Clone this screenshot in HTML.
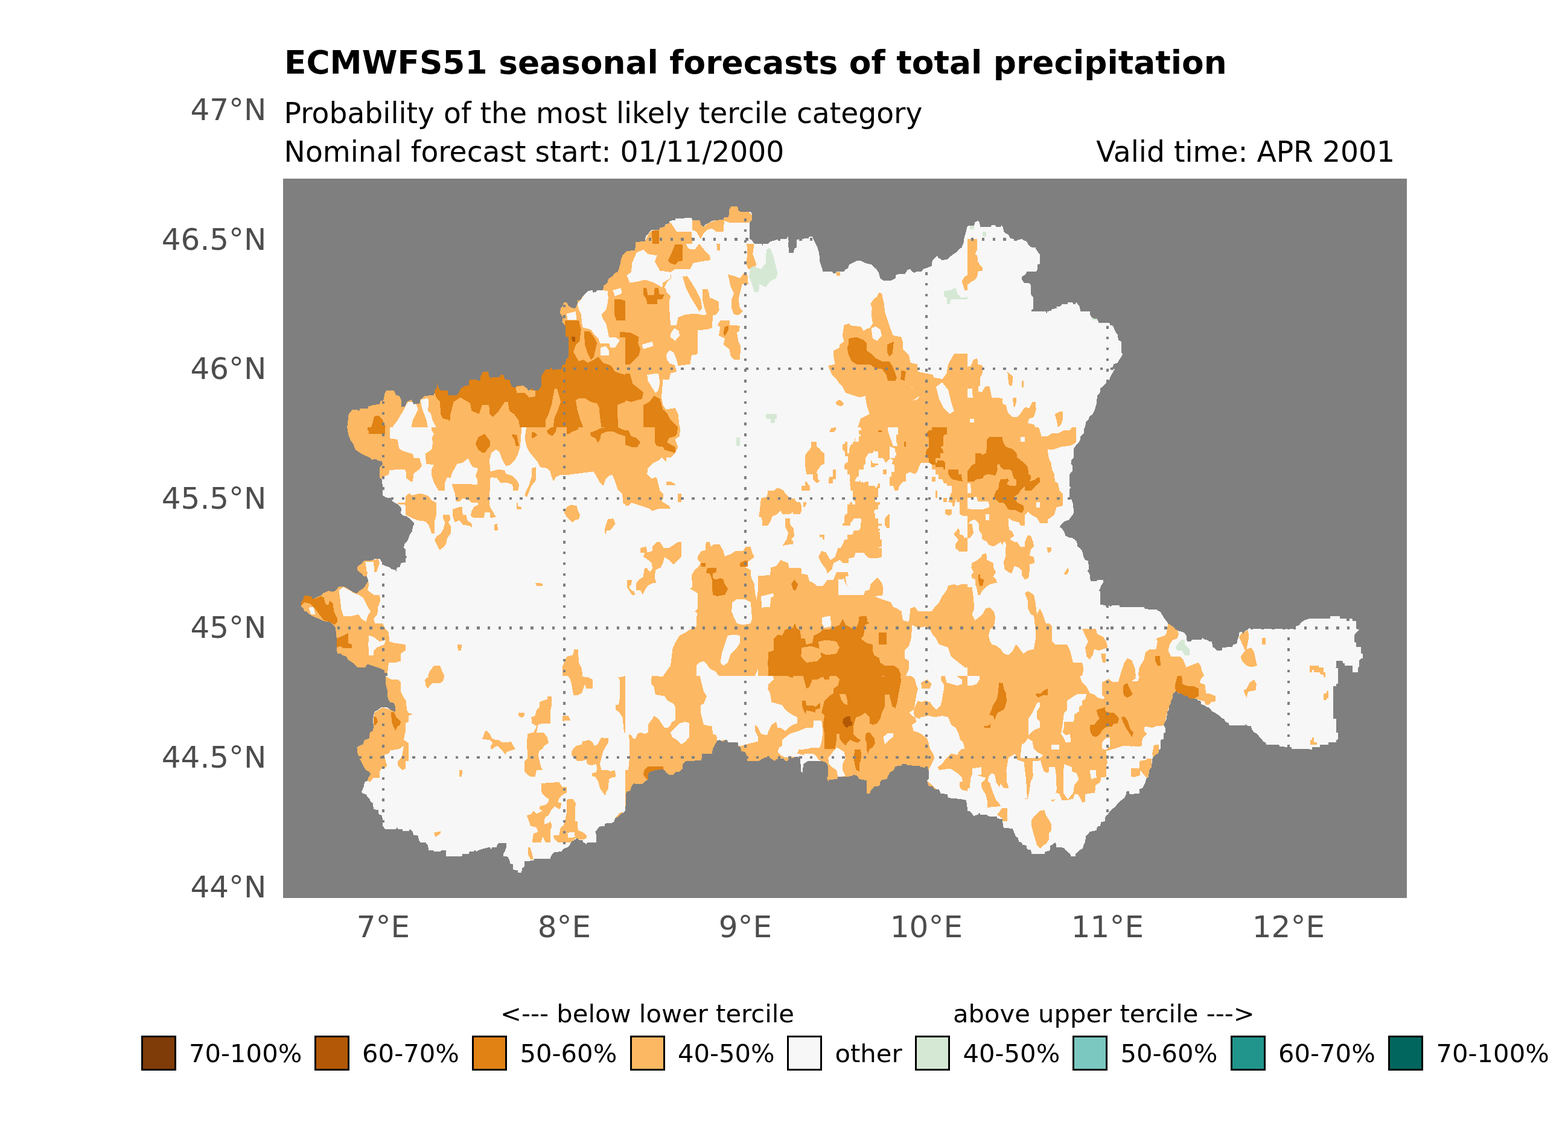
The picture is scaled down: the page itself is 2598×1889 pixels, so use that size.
<!DOCTYPE html>
<html><head><meta charset="utf-8"><title>ECMWFS51 seasonal forecasts of total precipitation</title>
<style>
html,body{margin:0;padding:0;background:#fff;}
body{width:2598px;height:1889px;position:relative;overflow:hidden;font-family:"DejaVu Sans", "Liberation Sans", sans-serif;}
.t{position:absolute;white-space:nowrap;color:#000;}
#title{left:471px;top:64px;font-size:53.35px;font-weight:bold;line-height:80px;}
#sub1{left:470.6px;top:152.6px;font-size:47.2px;line-height:70px;}
#sub2{left:470.6px;top:216.5px;font-size:47.2px;line-height:70px;}
#sub3{right:287px;top:216.5px;font-size:47.2px;line-height:70px;}
.yl{position:absolute;right:2156.5px;font-size:50px;line-height:60px;color:#4d4d4d;white-space:nowrap;text-align:right;}
.xl{position:absolute;top:1501px;width:300px;text-align:center;font-size:50px;line-height:70px;color:#4d4d4d;white-space:nowrap;}
.lk{position:absolute;top:1716px;width:52px;height:52px;border:3px solid #000;}
.lt{position:absolute;top:1711px;font-size:41.7px;line-height:70px;white-space:nowrap;color:#000;}
.lh{position:absolute;top:1650px;font-size:41.7px;line-height:60px;white-space:nowrap;color:#000;}
svg{position:absolute;left:0;top:0;}
</style></head><body>
<svg width="2598" height="1889" viewBox="0 0 2598 1889" xmlns="http://www.w3.org/2000/svg" shape-rendering="crispEdges">
<rect x="469" y="296" width="1862" height="1192" fill="#7f7f7f"/>
<g id="map">
<defs><clipPath id="cl0"><rect x="469" y="296" width="567" height="412"/></clipPath><mask id="mk0" maskUnits="userSpaceOnUse" x="464" y="291" width="577" height="422"><rect x="464" y="291" width="577" height="422" fill="#fff"/><polygon fill="#000" points="575.2,708.0 577.8,686.0 584.0,678.5 591.5,678.5 595.2,681.0 596.5,677.2 610.2,677.2 610.2,673.5 619.0,671.0 629.0,669.8 630.2,664.8 635.2,663.5 637.8,651.0 640.2,647.2 652.8,647.2 656.5,654.8 661.5,656.0 665.2,663.5 665.2,673.5 671.5,673.5 674.0,666.0 681.5,662.2 685.2,669.8 695.2,668.5 696.5,662.2 704.0,656.0 719.0,654.8 720.2,647.2 724.0,642.2 724.5,634.8 726.5,642.2 730.2,647.2 741.5,647.2 742.8,654.8 756.5,654.8 760.2,651.0 764.0,643.5 769.0,639.8 776.5,638.5 777.8,628.5 790.2,628.5 791.5,631.0 795.2,631.0 796.5,623.5 800.2,616.0 809.0,616.0 810.2,623.5 814.0,627.2 815.2,624.8 827.8,624.8 829.0,621.0 834.0,620.5 836.5,628.5 844.0,628.5 846.5,637.2 850.2,642.2 855.2,642.2 856.5,639.0 867.8,639.0 874.0,644.8 875.2,647.2 880.2,644.8 881.5,643.0 884.0,647.2 891.5,647.2 896.5,641.0 896.5,623.5 899.0,619.8 904.0,612.2 911.5,611.8 914.0,608.5 916.5,608.5 917.8,612.2 930.2,611.8 931.5,604.8 936.5,603.5 937.8,596.0 941.5,592.2 941.5,558.5 936.5,557.2 936.5,539.8 931.5,533.5 932.8,526.0 927.8,518.5 929.0,511.0 932.8,506.0 934.0,500.5 939.0,500.5 941.5,506.0 946.5,509.8 952.8,511.0 954.0,508.5 956.5,503.5 956.5,498.5 962.8,496.0 965.2,491.0 969.0,487.2 974.0,482.2 981.5,481.0 982.8,484.8 987.8,483.5 989.0,481.0 999.0,481.0 1000.2,473.5 1006.5,468.5 1007.8,462.2 1015.2,457.2 1017.8,453.5 1024.0,449.8 1027.8,437.2 1029.0,428.5 1031.5,423.5 1036.0,418.5 1069.0,413.5 1069.0,733.5 569.0,733.5"/></mask><clipPath id="cl1"><rect x="469" y="708" width="567" height="412"/></clipPath><mask id="mk1" maskUnits="userSpaceOnUse" x="464" y="703" width="577" height="422"><rect x="464" y="703" width="577" height="422" fill="#fff"/><polygon fill="#000" points="575.2,683.0 575.2,708.0 577.8,723.0 581.5,730.5 585.2,735.5 589.0,745.5 596.5,750.5 602.8,754.2 612.8,758.0 616.5,761.8 622.8,760.5 625.2,763.0 632.8,764.2 634.0,769.2 629.0,774.2 629.0,791.8 632.8,794.2 634.0,808.0 634.0,820.5 639.0,824.2 647.8,825.5 650.2,830.5 654.0,833.0 659.0,835.5 662.8,839.2 665.2,843.0 664.0,850.5 667.8,854.2 674.0,855.5 680.2,860.5 684.0,864.2 686.5,868.0 684.0,873.0 682.8,880.5 679.0,885.5 676.5,893.0 674.0,898.0 670.2,901.8 669.0,908.0 671.5,910.5 671.5,920.5 674.0,923.0 671.5,926.8 671.5,931.8 664.0,933.0 662.8,939.2 657.8,940.5 656.5,946.8 655.2,944.2 647.8,943.0 646.5,940.5 636.5,936.8 632.8,931.8 629.0,925.5 620.2,925.5 619.0,928.0 610.2,929.2 602.8,929.2 599.0,934.2 592.8,938.0 591.5,943.0 594.0,946.8 599.0,950.5 602.8,955.5 606.5,954.2 609.0,958.0 610.2,963.0 606.5,968.0 604.0,973.0 599.0,976.8 595.2,979.2 591.5,983.0 586.5,981.8 580.2,978.0 570.2,971.8 561.5,971.8 556.5,978.0 551.5,980.5 544.0,979.2 535.2,983.0 531.5,986.8 522.8,990.5 519.0,993.0 515.2,988.0 504.0,986.8 502.8,993.0 499.0,998.0 499.0,1005.5 502.8,1008.0 504.0,1013.0 507.8,1013.0 512.8,1018.0 519.0,1021.8 529.0,1025.5 536.5,1029.2 546.5,1030.5 551.5,1035.5 555.2,1038.0 556.5,1045.5 557.8,1058.0 557.8,1075.5 559.0,1083.0 564.0,1083.0 566.5,1085.5 574.0,1088.0 576.5,1093.0 584.0,1098.0 589.0,1103.0 591.5,1105.5 605.2,1105.5 609.0,1100.5 616.5,1103.0 624.0,1105.5 631.5,1108.0 635.2,1110.5 635.2,1114.2 641.5,1115.5 641.5,1145.5 1069.0,1145.5 1069.0,683.0"/></mask><clipPath id="cl2"><rect x="469" y="1120" width="567" height="368"/></clipPath><mask id="mk2" maskUnits="userSpaceOnUse" x="464" y="1115" width="577" height="378"><rect x="464" y="1115" width="577" height="378" fill="#fff"/><polygon fill="#000" points="559.0,1051.0 559.0,1081.0 569.0,1083.5 576.5,1091.0 584.0,1096.0 591.5,1104.8 606.5,1104.8 610.2,1099.8 617.8,1099.8 626.5,1103.5 634.0,1106.0 636.5,1113.5 641.5,1114.8 639.0,1118.5 639.0,1133.5 641.5,1143.5 642.8,1158.5 646.5,1163.5 652.8,1164.8 655.2,1172.2 655.2,1179.8 646.5,1176.0 641.5,1172.2 631.5,1172.2 626.5,1176.0 620.2,1179.8 619.0,1186.0 617.8,1193.5 619.0,1203.5 617.8,1211.0 612.8,1213.5 611.5,1223.5 604.0,1226.0 601.5,1233.5 596.5,1234.8 591.5,1238.5 591.5,1244.8 594.0,1252.2 596.5,1258.5 599.0,1263.5 602.8,1271.0 606.5,1276.0 612.8,1279.8 614.0,1283.5 610.2,1288.5 609.0,1293.5 604.0,1296.0 602.8,1303.5 599.0,1312.2 601.5,1314.8 606.5,1316.0 609.0,1321.0 612.8,1324.8 614.0,1328.5 617.8,1331.0 619.0,1341.0 626.5,1342.2 627.8,1349.8 632.8,1351.0 634.0,1358.5 634.0,1368.5 637.8,1373.5 656.5,1373.5 657.8,1369.8 659.0,1373.5 666.5,1373.5 666.5,1377.2 677.8,1377.2 679.0,1373.5 684.0,1378.5 685.2,1383.5 692.8,1384.8 694.0,1392.2 696.5,1396.0 705.2,1396.0 709.0,1401.0 710.2,1408.5 717.8,1408.5 719.0,1411.0 730.2,1411.0 731.5,1408.5 739.0,1408.5 739.0,1418.5 765.2,1418.5 766.5,1414.8 776.5,1414.8 777.8,1411.0 785.2,1411.0 786.5,1408.5 789.0,1411.0 794.0,1408.5 801.5,1406.0 811.5,1403.5 814.0,1408.5 815.2,1403.5 822.8,1403.5 824.0,1399.8 826.5,1396.5 839.0,1396.5 839.0,1403.5 836.5,1411.0 834.0,1414.8 834.0,1418.5 841.5,1419.8 844.0,1424.8 845.2,1431.0 850.2,1432.2 850.2,1441.0 857.8,1442.2 857.8,1446.0 864.0,1446.0 865.2,1438.5 869.0,1436.0 869.0,1427.2 884.0,1426.0 885.2,1423.5 911.5,1423.0 912.8,1418.5 917.8,1412.2 930.2,1411.0 934.0,1406.0 941.5,1403.5 944.0,1399.8 946.5,1394.8 951.5,1392.2 956.5,1388.5 959.0,1392.2 965.2,1392.2 966.5,1396.0 971.5,1398.5 972.8,1396.0 987.8,1396.0 987.8,1383.5 986.5,1378.5 990.2,1373.5 992.8,1369.8 1001.5,1368.5 1001.5,1364.8 1014.0,1363.5 1017.8,1361.0 1019.0,1356.0 1024.0,1353.5 1029.0,1348.5 1034.0,1346.0 1036.0,1343.5 1069.0,1342.2 1069.0,1051.0"/></mask><clipPath id="cl3"><rect x="1036" y="296" width="567" height="412"/></clipPath><mask id="mk3" maskUnits="userSpaceOnUse" x="1031" y="291" width="577" height="422"><rect x="1031" y="291" width="577" height="422" fill="#fff"/><polygon fill="#000" points="1011.0,418.5 1036.0,418.5 1038.5,416.0 1052.2,414.8 1053.5,401.0 1068.5,399.8 1069.8,392.2 1076.0,384.8 1079.8,381.0 1092.2,381.0 1093.5,377.2 1101.0,376.0 1102.2,372.2 1108.5,369.8 1109.8,366.0 1118.5,364.8 1119.8,361.5 1133.5,361.5 1134.8,360.5 1146.0,361.0 1147.2,364.8 1159.8,365.5 1161.0,372.2 1166.0,376.0 1168.5,372.2 1173.5,369.8 1179.8,366.0 1186.0,364.8 1198.5,364.0 1199.8,360.5 1207.2,359.8 1208.5,347.2 1211.0,342.2 1222.2,342.2 1223.5,348.5 1226.0,350.5 1243.5,350.5 1246.0,354.8 1246.0,364.8 1242.2,368.5 1242.2,396.0 1244.8,397.2 1249.8,403.5 1262.2,404.0 1263.5,407.2 1264.8,403.5 1273.5,403.5 1276.0,400.5 1287.2,397.2 1291.0,396.0 1303.5,395.5 1305.5,392.2 1307.2,398.5 1306.0,403.5 1307.2,418.5 1314.8,418.5 1316.0,412.2 1319.8,409.8 1319.8,397.2 1326.0,396.0 1339.8,394.8 1341.0,392.2 1346.0,392.2 1351.0,403.5 1354.8,411.0 1357.2,419.8 1358.5,433.5 1361.0,441.0 1363.5,449.8 1378.5,449.8 1381.0,453.5 1384.8,452.2 1387.2,449.8 1398.5,449.8 1401.0,446.0 1404.8,444.8 1407.2,438.5 1412.2,436.0 1419.8,432.2 1426.0,432.2 1433.5,436.0 1443.5,438.5 1447.2,442.2 1452.2,446.0 1456.0,452.2 1458.5,461.0 1463.5,464.8 1476.0,464.8 1483.5,461.0 1484.8,454.8 1499.8,453.5 1503.5,447.2 1508.5,446.0 1511.0,449.8 1514.8,452.2 1519.8,449.8 1527.2,449.8 1529.8,446.0 1543.5,441.0 1544.8,432.2 1549.8,427.2 1552.2,423.5 1554.8,427.2 1561.0,431.0 1569.8,429.8 1573.5,426.0 1578.5,422.2 1583.5,418.5 1588.5,413.5 1593.5,409.8 1594.8,406.0 1597.2,401.0 1597.2,396.0 1601.0,382.2 1603.0,373.5 1636.0,371.0 1636.0,733.5 1011.0,733.5"/></mask><clipPath id="cl4"><rect x="1036" y="708" width="567" height="412"/></clipPath><clipPath id="cl5"><rect x="1036" y="1120" width="567" height="368"/></clipPath><mask id="mk5" maskUnits="userSpaceOnUse" x="1031" y="1115" width="577" height="378"><rect x="1031" y="1115" width="577" height="378" fill="#fff"/><polygon fill="#000" points="1636.0,1341.0 1603.0,1341.0 1601.0,1326.0 1596.0,1324.8 1586.0,1323.5 1571.0,1322.2 1569.8,1316.0 1558.5,1314.8 1556.0,1308.5 1547.2,1307.2 1546.0,1303.5 1538.5,1302.2 1536.0,1293.5 1538.5,1291.0 1538.5,1276.0 1536.0,1269.8 1533.5,1272.2 1526.0,1271.0 1522.2,1268.5 1512.2,1269.0 1509.8,1268.0 1503.5,1268.5 1501.0,1266.0 1493.5,1265.5 1493.5,1268.5 1483.5,1269.8 1481.0,1276.0 1474.8,1279.8 1471.0,1286.0 1469.8,1291.0 1461.0,1292.2 1458.5,1296.0 1457.2,1302.2 1448.5,1303.5 1443.5,1308.5 1441.0,1314.8 1436.0,1314.8 1436.0,1293.5 1431.0,1292.2 1423.5,1291.0 1421.0,1286.0 1413.5,1283.5 1411.0,1286.0 1401.0,1287.2 1388.5,1287.2 1387.2,1291.0 1373.5,1292.2 1372.2,1296.0 1371.0,1291.0 1369.8,1288.5 1372.2,1286.0 1372.2,1273.5 1371.0,1266.0 1366.0,1262.2 1361.0,1261.0 1338.5,1261.0 1331.0,1266.0 1329.8,1279.8 1327.2,1278.5 1326.0,1256.0 1321.0,1253.5 1317.2,1254.0 1314.8,1256.0 1307.2,1256.5 1304.8,1261.0 1301.0,1261.0 1298.5,1257.2 1291.0,1256.5 1286.0,1258.5 1283.5,1261.0 1279.8,1258.5 1276.0,1256.0 1272.2,1254.8 1267.2,1255.5 1263.5,1257.2 1257.2,1261.0 1238.5,1261.0 1237.2,1252.2 1234.8,1246.0 1228.5,1244.8 1227.2,1238.5 1223.5,1236.0 1222.2,1229.8 1206.0,1229.8 1204.8,1226.0 1201.0,1226.0 1198.5,1229.0 1192.2,1226.0 1188.5,1227.2 1184.8,1233.5 1181.0,1241.0 1179.8,1248.5 1163.5,1249.0 1162.2,1259.8 1151.0,1260.5 1136.0,1261.0 1131.0,1266.0 1130.5,1273.5 1126.0,1278.5 1118.5,1279.8 1116.0,1283.5 1108.5,1283.5 1103.5,1279.8 1101.0,1276.0 1097.2,1274.8 1086.0,1276.0 1074.8,1279.8 1073.5,1291.0 1071.0,1293.5 1067.2,1296.0 1064.8,1298.5 1052.2,1298.5 1051.0,1297.2 1048.5,1299.8 1046.0,1303.5 1044.8,1309.8 1038.5,1312.2 1037.2,1316.0 1037.2,1328.5 1036.0,1341.0 1011.0,1341.0 1011.0,1051.0 1636.0,1051.0"/></mask><clipPath id="cl6"><rect x="1603" y="296" width="567" height="412"/></clipPath><mask id="mk6" maskUnits="userSpaceOnUse" x="1598" y="291" width="577" height="422"><rect x="1598" y="291" width="577" height="422" fill="#fff"/><polygon fill="#000" points="1578.0,374.8 1603.0,374.8 1606.8,373.5 1614.2,373.5 1615.5,368.5 1620.5,365.5 1623.0,368.5 1624.2,376.0 1641.8,376.0 1643.0,373.0 1649.2,373.0 1650.5,376.0 1658.0,376.5 1659.2,373.0 1661.8,376.0 1663.0,383.5 1666.8,387.2 1670.5,388.5 1674.2,394.8 1679.2,396.0 1683.0,398.5 1688.0,397.2 1693.0,396.0 1696.8,398.5 1700.5,399.8 1704.2,406.0 1709.2,409.8 1715.5,409.8 1716.8,413.5 1720.5,418.5 1722.5,421.0 1722.5,437.2 1719.2,438.5 1719.2,446.0 1716.8,449.8 1701.8,449.8 1699.2,454.8 1693.0,458.5 1693.0,463.5 1696.8,468.5 1706.8,469.8 1708.0,473.5 1708.0,484.8 1707.5,487.2 1711.8,492.2 1711.8,512.2 1709.2,513.5 1709.2,516.0 1733.0,516.0 1734.2,519.8 1735.5,516.0 1741.8,514.8 1743.0,512.2 1750.5,511.0 1750.5,508.5 1758.0,507.2 1759.2,503.5 1769.2,503.5 1769.2,500.5 1776.8,500.5 1778.0,503.5 1781.8,503.5 1783.0,500.5 1785.5,503.5 1789.2,508.5 1790.0,516.0 1805.5,516.0 1806.8,523.5 1810.5,527.2 1818.0,528.5 1820.5,534.8 1838.0,534.8 1839.2,538.5 1844.2,539.8 1848.0,549.8 1851.8,554.8 1853.0,563.5 1858.0,566.0 1858.0,584.8 1860.5,586.0 1858.0,591.0 1855.5,594.8 1851.8,601.0 1845.5,603.5 1843.0,608.5 1846.8,612.2 1843.0,618.5 1839.2,626.0 1836.8,632.2 1833.0,634.8 1828.0,639.8 1823.0,643.5 1823.0,649.8 1818.0,656.0 1816.8,668.5 1814.2,678.5 1810.5,686.0 1805.5,689.8 1803.0,696.0 1799.2,699.8 1798.0,708.0 1798.0,733.5 1578.0,733.5"/></mask><clipPath id="cl7"><rect x="1603" y="708" width="567" height="412"/></clipPath><mask id="mk7" maskUnits="userSpaceOnUse" x="1598" y="703" width="577" height="422"><rect x="1598" y="703" width="577" height="422" fill="#fff"/><polygon fill="#000" points="1796.8,683.0 1796.8,708.0 1795.5,718.0 1790.5,723.0 1789.2,730.5 1785.5,735.5 1781.8,739.2 1779.2,743.0 1779.2,758.0 1775.5,761.8 1774.2,768.0 1776.8,771.8 1776.8,780.5 1773.0,784.2 1771.8,788.0 1771.8,805.5 1774.2,808.0 1771.8,810.5 1771.8,825.5 1775.5,828.0 1778.0,835.5 1779.2,850.5 1775.5,855.5 1770.5,861.8 1763.0,864.2 1759.2,868.0 1755.5,873.0 1759.2,875.5 1763.0,880.5 1765.5,888.0 1770.5,890.5 1775.5,890.5 1780.5,894.2 1784.2,898.0 1785.5,905.5 1789.2,908.0 1793.0,913.0 1795.5,923.0 1798.0,928.0 1803.0,929.2 1804.2,943.0 1801.8,945.5 1805.5,951.8 1806.8,963.0 1816.8,963.0 1818.0,960.5 1828.0,960.5 1828.0,965.5 1824.2,970.5 1823.0,975.5 1820.5,978.0 1823.0,980.5 1823.0,1001.8 1831.8,1003.0 1833.0,1006.8 1836.8,1003.0 1840.5,1005.5 1843.0,1002.5 1854.2,1002.5 1855.5,1006.0 1895.5,1006.0 1896.8,1009.2 1916.8,1010.5 1923.0,1014.2 1928.0,1023.0 1931.8,1028.0 1935.5,1033.0 1943.0,1038.0 1948.0,1043.0 1953.0,1045.5 1961.8,1048.0 1965.5,1053.0 1966.8,1063.0 1973.0,1063.0 1975.5,1060.0 1990.5,1060.0 1991.8,1056.8 1994.2,1059.2 2000.5,1060.5 2003.0,1063.0 2008.0,1063.0 2009.2,1071.8 2013.0,1074.2 2016.8,1078.0 2024.2,1078.0 2025.5,1073.0 2041.8,1071.8 2043.0,1068.0 2049.2,1066.8 2050.5,1060.5 2053.0,1053.0 2053.0,1048.0 2058.0,1046.8 2059.2,1050.5 2063.0,1045.5 2068.0,1043.0 2069.2,1040.5 2073.0,1041.8 2145.5,1041.8 2146.8,1038.0 2153.0,1035.5 2155.5,1031.8 2160.5,1028.0 2170.0,1025.0 2203.0,1023.0 2203.0,1145.5 1578.0,1145.5 1578.0,683.0"/></mask><clipPath id="cl8"><rect x="1603" y="1120" width="567" height="368"/></clipPath><mask id="mk8" maskUnits="userSpaceOnUse" x="1598" y="1115" width="577" height="378"><rect x="1598" y="1115" width="577" height="378" fill="#fff"/><polygon fill="#000" points="2203.0,1241.5 2170.0,1241.5 2140.5,1241.0 2140.0,1238.0 2120.5,1237.2 2119.2,1234.0 2098.0,1233.5 2096.8,1229.8 2093.0,1229.0 2090.5,1224.8 2086.8,1221.0 2084.2,1217.2 2080.5,1214.8 2078.0,1213.5 2074.2,1208.5 2073.0,1203.5 2065.5,1202.2 2064.2,1199.0 2063.0,1202.2 2036.8,1202.2 2035.5,1198.5 2030.5,1196.0 2028.0,1191.0 2024.2,1189.8 2020.5,1186.0 2016.8,1183.5 2013.0,1181.0 2008.0,1178.5 2005.5,1174.8 2003.0,1172.2 1998.0,1171.0 1995.5,1168.5 1990.5,1167.2 1989.2,1161.0 1985.5,1161.0 1983.0,1158.5 1978.0,1157.2 1975.5,1158.5 1969.2,1156.0 1968.0,1153.5 1960.5,1152.2 1958.0,1149.8 1951.8,1148.5 1949.2,1145.5 1946.8,1146.0 1945.5,1148.5 1943.0,1149.8 1943.0,1156.0 1940.5,1161.0 1939.2,1167.2 1936.8,1169.8 1936.8,1176.0 1934.2,1179.8 1933.0,1191.0 1930.5,1196.0 1928.0,1201.0 1930.5,1206.0 1930.5,1213.5 1928.0,1214.8 1928.0,1224.8 1923.5,1226.0 1923.0,1241.0 1920.5,1242.2 1919.2,1248.5 1914.2,1251.0 1911.8,1253.5 1909.2,1257.2 1908.0,1271.0 1904.2,1276.0 1903.0,1287.2 1899.2,1289.8 1898.0,1296.0 1895.5,1301.0 1893.0,1306.0 1888.0,1307.2 1888.0,1314.8 1871.8,1316.0 1870.5,1311.0 1866.8,1311.0 1865.5,1317.2 1863.0,1322.2 1858.0,1326.0 1854.2,1329.8 1850.5,1333.5 1845.5,1338.5 1841.8,1342.2 1838.0,1346.0 1835.5,1349.8 1831.8,1352.2 1830.5,1361.0 1824.2,1362.2 1823.0,1368.5 1818.0,1369.8 1816.8,1376.0 1810.5,1377.2 1805.5,1378.5 1803.0,1382.2 1799.2,1384.8 1798.0,1394.8 1795.5,1399.8 1794.2,1406.0 1789.2,1408.5 1785.5,1412.2 1781.8,1414.8 1781.8,1418.5 1774.2,1418.5 1773.0,1414.8 1769.2,1412.2 1765.5,1408.5 1763.0,1404.8 1750.5,1403.5 1749.2,1396.0 1746.8,1397.2 1744.2,1399.8 1740.5,1401.0 1739.2,1409.8 1731.8,1411.0 1730.5,1414.8 1709.2,1414.8 1708.0,1408.5 1701.8,1407.2 1700.5,1401.0 1694.2,1399.8 1693.0,1396.0 1688.0,1394.8 1686.8,1388.5 1683.0,1386.0 1680.5,1379.8 1678.0,1373.5 1670.5,1372.2 1663.0,1372.2 1661.8,1366.0 1660.5,1357.2 1651.8,1356.0 1651.8,1353.5 1635.5,1352.2 1635.5,1349.8 1624.2,1349.8 1623.0,1346.0 1620.5,1349.8 1613.0,1352.2 1610.5,1348.5 1608.0,1346.0 1606.8,1343.5 1603.0,1343.5 1578.0,1343.5 1578.0,1051.0 2203.0,1051.0"/></mask><clipPath id="cl9"><rect x="2170" y="708" width="161" height="780"/></clipPath><mask id="mk9" maskUnits="userSpaceOnUse" x="2165" y="703" width="171" height="790"><rect x="2165" y="703" width="171" height="790" fill="#fff"/><polygon fill="#000" points="2017.7,1072.0 2031.0,1072.0 2041.7,1072.0 2041.7,1068.0 2049.7,1068.0 2050.3,1064.0 2052.3,1060.0 2052.3,1048.0 2055.0,1048.0 2055.0,1052.0 2059.7,1052.0 2060.3,1048.0 2063.0,1044.9 2069.0,1044.9 2069.0,1041.3 2076.3,1041.3 2077.0,1044.9 2085.0,1044.9 2085.0,1041.3 2087.0,1044.9 2097.7,1044.9 2098.3,1041.3 2101.0,1044.9 2105.7,1044.9 2106.3,1042.0 2114.3,1042.0 2115.0,1044.9 2117.0,1044.9 2117.0,1041.3 2143.0,1041.3 2144.3,1044.9 2147.0,1044.9 2147.0,1041.3 2149.7,1041.3 2150.3,1037.3 2155.0,1036.7 2155.0,1032.9 2158.3,1032.7 2158.3,1028.9 2163.0,1028.7 2163.0,1025.1 2204.3,1025.1 2204.3,1020.9 2219.7,1020.9 2220.1,1025.1 2231.0,1025.1 2231.4,1028.7 2235.7,1028.7 2236.3,1025.1 2240.3,1025.1 2241.0,1028.7 2247.0,1028.9 2247.3,1042.0 2251.7,1043.3 2249.7,1046.0 2247.0,1048.0 2244.3,1052.0 2243.7,1064.0 2247.0,1064.7 2247.0,1071.6 2255.0,1072.0 2255.0,1082.7 2257.7,1083.3 2257.7,1090.7 2255.0,1091.3 2251.7,1095.3 2251.7,1105.3 2249.7,1106.0 2249.7,1114.0 2241.0,1114.0 2241.0,1103.1 2228.3,1103.1 2227.7,1099.3 2225.0,1098.7 2224.3,1095.1 2214.3,1095.1 2213.7,1106.0 2212.1,1106.7 2212.1,1110.0 2214.3,1114.0 2217.0,1114.7 2217.0,1132.7 2213.7,1133.3 2213.7,1136.7 2209.0,1137.3 2209.0,1169.9 2209.0,1190.0 2017.7,1190.0"/><polygon fill="#000" points="2217.0,1106.7 2217.0,1132.7 2214.3,1133.3 2213.7,1136.7 2209.0,1137.1 2209.0,1168.0 2205.9,1168.3 2205.9,1179.7 2209.0,1180.0 2209.0,1190.7 2213.9,1190.9 2213.9,1214.0 2217.0,1214.4 2217.0,1225.3 2214.3,1226.0 2213.9,1230.0 2201.0,1230.0 2200.6,1234.0 2187.0,1234.0 2186.7,1238.0 2173.9,1238.0 2173.7,1241.6 2141.0,1241.6 2140.7,1238.0 2137.7,1238.0 2137.4,1237.1 2120.1,1237.3 2119.7,1234.0 2097.9,1234.0 2097.7,1230.0 2093.0,1230.0 2092.6,1226.0 2089.7,1226.0 2089.4,1222.0 2087.0,1222.0 2085.0,1218.0 2085.0,1214.0 2079.0,1213.3 2077.0,1210.7 2077.0,1207.3 2073.7,1206.7 2073.7,1202.9 2066.3,1202.9 2065.9,1198.9 2063.0,1198.9 2063.0,1202.9 2036.1,1202.9 2035.8,1198.9 2031.0,1198.9 2017.7,1198.9 2017.7,1106.7"/></mask></defs>
<g clip-path="url(#cl0)">
<rect x="469" y="296" width="567" height="412" fill="#f7f7f7"/>
<polygon fill="#fdb863" points="469.0,296.0 1069.0,296.0 1069.0,733.5 469.0,733.5"/>
<polygon fill="#f7f7f7" points="956.5,503.5 962.8,496.0 969.0,487.2 974.0,482.2 981.5,481.0 987.8,483.5 989.0,481.0 999.0,481.0 1006.5,482.2 1007.8,493.5 1006.5,503.5 1004.0,513.5 996.5,521.0 999.0,528.5 1004.0,536.0 1006.5,546.0 1009.0,558.5 1019.0,558.5 1026.5,563.5 1024.0,568.5 1019.0,576.0 1011.5,576.0 1009.0,568.5 994.0,568.5 991.5,561.0 984.0,553.5 979.0,546.0 969.0,543.5 965.2,542.2 964.0,533.5 962.8,521.0 959.0,513.5"/>
<polygon fill="#f7f7f7" points="1015.2,481.0 1029.0,477.2 1030.2,486.0 1019.0,491.0"/>
<polygon fill="#f7f7f7" points="995.2,576.0 1004.0,573.5 1009.0,581.0 1009.0,588.5 995.2,588.5"/>
<polygon fill="#f7f7f7" points="676.5,666.0 684.0,666.0 690.2,671.0 692.8,678.5 689.0,686.0 684.0,696.0 681.5,708.0 650.2,708.0 659.0,696.0 666.5,683.5 671.5,673.5"/>
<polygon fill="#f7f7f7" points="696.5,662.2 709.0,659.8 710.2,666.0 709.0,681.0 714.0,686.0 716.5,696.0 722.8,708.0 709.0,708.0 706.5,696.0 702.8,686.0 699.0,676.0"/>
<polygon fill="#f7f7f7" points="939.0,519.8 954.0,516.0 955.2,529.8 940.2,529.8"/>
<polygon fill="#e08214" points="719.0,608.5 894.0,608.5 899.0,596.0 934.0,596.0 936.5,531.0 959.0,531.0 962.8,546.0 960.2,566.0 954.0,571.0 950.2,583.5 959.0,598.5 966.5,596.0 974.0,601.0 984.0,596.0 991.5,591.0 999.0,601.0 1012.8,606.0 1019.0,616.0 1036.0,621.0 1044.0,621.0 1044.0,708.0 746.5,708.0 744.0,696.0 734.0,693.5 730.2,686.0 729.0,666.0 722.8,658.5 720.2,651.0"/>
<polygon fill="#fdb863" points="744.0,708.0 746.5,686.0 751.5,666.0 762.8,658.5 771.5,663.5 779.0,668.5 781.5,681.0 794.0,686.0 799.0,671.0 810.2,671.0 811.5,686.0 816.5,691.0 826.5,681.0 836.5,666.0 841.5,666.0 844.0,681.0 851.5,686.0 859.0,696.0 861.5,708.0"/>
<polygon fill="#fdb863" points="919.0,643.5 922.8,643.5 926.5,656.0 929.0,666.0 924.0,681.0 919.0,691.0 916.5,708.0 904.0,708.0 904.0,696.0 909.0,686.0 914.0,671.0 916.5,656.0"/>
<polygon fill="#fdb863" points="954.0,663.5 959.0,659.8 969.0,659.8 979.0,666.0 989.0,668.5 992.8,676.0 994.0,691.0 996.5,708.0 966.5,708.0 961.5,696.0 956.5,678.5"/>
<polygon fill="#fdb863" points="1022.8,671.0 1036.0,666.0 1044.0,666.0 1044.0,708.0 1024.0,708.0"/>
<polygon fill="#fdb863" points="854.0,641.0 869.0,638.5 875.2,646.0 886.5,647.2 886.5,657.2 876.5,658.5 869.0,651.0 856.5,651.0"/>
<polygon fill="#e08214" points="1017.8,496.0 1029.0,496.0 1036.0,498.5 1036.0,531.0 1021.5,531.0 1017.8,521.0"/>
<polygon fill="#e08214" points="967.8,548.5 976.5,548.5 984.0,558.5 989.0,568.5 984.0,591.0 979.0,596.0 974.0,586.0 969.0,571.0"/>
<polygon fill="#e08214" points="1026.5,549.8 1036.0,549.8 1036.0,558.5 1026.5,558.5"/>
<polygon fill="#e08214" points="620.2,689.8 627.8,688.5 634.0,696.0 639.0,708.0 615.2,708.0"/>
<polygon fill="#b35806" points="946.5,558.0 952.8,558.0 952.8,565.5 948.5,565.5"/>
<rect x="469" y="296" width="567" height="412" fill="#7f7f7f" mask="url(#mk0)"/>
</g>
<g clip-path="url(#cl1)">
<rect x="469" y="708" width="567" height="412" fill="#f7f7f7"/>
<polygon fill="#fdb863" points="569.0,695.5 629.0,695.5 629.0,795.5 569.0,795.5"/>
<polygon fill="#e08214" points="607.8,695.5 639.0,695.5 639.0,719.2 619.0,719.2 609.0,713.0"/>
<polygon fill="#fdb863" points="589.0,928.0 604.0,928.0 619.0,928.0 626.5,925.5 629.0,933.0 624.0,948.0 609.0,948.0 607.8,955.5 611.5,968.0 609.0,978.0 619.0,985.5 629.0,985.5 630.2,995.5 626.5,1005.5 625.2,1018.0 619.0,1025.5 621.5,1033.0 634.0,1033.0 639.0,1043.0 644.0,1048.0 645.2,1063.0 654.0,1065.5 671.5,1068.0 671.5,1078.0 664.0,1083.0 664.0,1095.5 655.2,1098.0 644.0,1098.0 641.5,1120.0 494.0,1120.0 494.0,970.5 569.0,970.5"/>
<polygon fill="#f7f7f7" points="561.5,978.0 569.0,973.0 579.0,978.0 586.5,983.0 594.0,985.5 601.5,990.5 609.0,1005.5 614.0,1013.0 609.0,1020.5 606.5,1030.5 599.0,1025.5 594.0,1018.0 584.0,1020.5 574.0,1020.5 569.0,1020.5 565.2,1008.0 564.0,995.5"/>
<polygon fill="#f7f7f7" points="611.5,1053.0 619.0,1055.5 629.0,1063.0 639.0,1060.5 636.5,1068.0 624.0,1073.0 619.0,1078.0 619.0,1085.5 611.5,1085.5 610.2,1068.0"/>
<polygon fill="#f7f7f7" points="511.5,1006.8 519.0,1005.5 522.8,1018.0 515.2,1018.0"/>
<polygon fill="#f7f7f7" points="605.2,930.5 619.0,930.5 620.2,948.0 607.8,948.0"/>
<polygon fill="#e08214" points="504.0,986.8 515.2,988.0 519.0,993.0 531.5,988.0 536.5,990.5 539.0,1000.5 544.0,1003.0 546.5,995.5 551.5,1000.5 554.0,1015.5 559.0,1025.5 559.0,1030.5 554.0,1035.5 546.5,1030.5 536.5,1028.0 529.0,1018.0 521.5,1008.0 514.0,1000.5 504.0,998.0 499.0,1003.0 499.0,995.5"/>
<polygon fill="#e08214" points="557.8,1058.0 569.0,1053.0 576.5,1049.2 576.5,1065.5 582.8,1068.0 582.8,1074.2 569.0,1074.2 564.0,1070.5 557.8,1073.0"/>
<polygon fill="#fdb863" points="757.8,1068.0 765.2,1068.0 764.0,1078.0 759.0,1078.0"/>
<polygon fill="#fdb863" points="711.5,1113.0 719.0,1103.0 729.0,1103.0 734.0,1115.5 736.5,1120.0 709.0,1120.0"/>
<polygon fill="#fdb863" points="931.5,1105.5 939.0,1088.0 949.0,1085.5 951.5,1075.5 957.8,1075.5 959.0,1098.0 964.0,1108.0 965.2,1120.0 931.5,1120.0"/>
<polygon fill="#fdb863" points="886.5,965.5 899.0,966.8 899.0,970.5 889.0,970.5"/>
<polygon fill="#fdb863" points="610.8,698.8 645.7,698.8 645.7,726.3 658.5,728.2 661.3,742.8 665.9,746.5 676.9,750.2 684.2,752.0 685.1,758.4 695.2,759.4 698.9,771.3 695.2,777.7 689.7,781.4 685.1,785.0 684.2,797.9 680.5,797.9 673.2,792.4 672.3,778.6 664.0,777.7 651.2,778.6 645.7,778.6 643.8,786.9 638.3,788.7 633.8,792.4 610.8,794.2"/>
<polygon fill="#fdb863" points="715.4,698.8 865.8,698.8 863.9,713.5 862.1,739.2 858.4,752.0 852.9,763.0 845.6,770.4 838.3,772.2 832.8,763.0 827.3,748.4 821.8,744.7 814.4,750.2 810.8,763.0 812.6,781.4 826.3,777.7 836.4,779.5 838.3,785.0 849.3,788.7 856.6,796.0 860.3,803.4 858.4,812.5 850.2,812.5 849.3,803.4 840.1,799.7 829.1,799.7 823.6,792.4 812.6,790.5 811.7,810.7 810.8,825.4 792.4,825.4 790.6,803.4 791.5,796.0 787.8,788.7 792.4,775.9 783.2,774.0 779.6,768.5 775.9,759.4 766.7,766.7 757.6,768.5 748.4,785.0 746.6,792.4 741.1,790.5 737.4,799.7 737.4,812.5 726.4,812.5 719.0,799.7 715.4,788.7 715.4,777.7 719.0,770.4 706.2,768.5 704.4,752.0 715.4,744.7 717.2,731.8 715.4,726.3 719.0,719.0 715.4,713.5"/>
<polygon fill="#fdb863" points="748.4,801.5 764.9,801.5 772.2,801.5 790.6,803.4 792.4,825.4 810.8,825.4 811.7,840.1 814.4,843.7 821.8,856.6 812.6,858.4 811.7,849.2 803.4,849.2 801.6,858.4 785.1,858.4 779.6,854.7 781.4,847.4 785.1,840.1 792.4,836.4 792.4,832.7 781.4,832.7 777.7,829.1 766.7,825.4 761.2,830.9 755.7,830.9 753.9,818.1"/>
<polygon fill="#fdb863" points="873.1,698.8 1041.9,698.8 1041.9,836.4 1032.7,834.6 1030.9,818.1 1023.5,810.7 1019.9,799.7 1014.4,786.9 1008.8,788.7 1003.3,794.2 999.7,805.2 994.2,799.7 986.8,786.9 983.2,781.4 968.5,783.2 941.0,786.9 928.1,786.9 920.8,790.5 917.1,797.9 913.5,788.7 911.6,781.4 906.1,775.9 895.1,774.0 891.5,766.7 884.1,757.5 876.8,748.4 873.1,741.0 869.4,726.3 871.3,713.5"/>
<polygon fill="#fdb863" points="880.5,775.9 887.8,774.0 887.8,796.0 880.5,805.2 876.8,814.4 873.1,823.6 869.4,821.7 871.3,814.4 876.8,803.4 880.5,790.5"/>
<polygon fill="#fdb863" points="672.3,821.7 678.7,817.1 682.4,820.8 693.4,818.1 698.9,818.1 709.9,821.7 715.4,829.1 722.7,832.7 722.7,854.7 720.0,863.9 720.0,884.1 715.4,884.1 709.9,869.4 704.4,863.9 691.5,862.1 682.4,858.4 672.3,852.9 671.4,836.4 664.0,836.4 658.5,834.6 658.5,832.7 671.4,832.7"/>
<polygon fill="#fdb863" points="733.7,852.9 744.7,852.9 746.6,860.2 742.9,865.7 746.6,871.2 746.6,884.1 741.1,891.4 739.2,900.6 735.6,906.1 728.2,911.6 725.5,906.1 720.0,895.1 722.7,889.6 730.1,884.1 734.6,876.7 737.4,865.7 734.6,860.2"/>
<polygon fill="#fdb863" points="750.2,843.7 761.2,840.1 765.8,840.1 766.7,852.9 772.2,852.9 774.1,862.1 781.4,867.6 782.3,874.0 777.7,871.2 766.7,869.4 761.2,862.1 753.9,865.7 750.2,854.7"/>
<polygon fill="#fdb863" points="939.1,840.1 946.5,836.4 955.7,838.2 957.5,845.6 961.2,852.9 959.3,860.2 952.0,862.1 948.3,865.7 942.8,860.2 939.1,856.6 934.6,849.2"/>
<polygon fill="#fdb863" points="1007.0,860.2 1016.2,859.3 1019.9,867.6 1014.4,874.9 1010.7,878.6 1005.2,878.6 1003.3,885.9 1001.5,880.4 1003.3,871.2"/>
<polygon fill="#fdb863" points="819.0,869.4 823.6,867.6 825.4,878.6 819.0,878.6"/>
<polygon fill="#fdb863" points="855.7,832.7 858.4,832.7 858.4,839.1 863.9,840.1 863.9,843.7 855.7,843.7"/>
<polygon fill="#e08214" points="792.4,724.5 798.8,720.8 803.4,719.0 807.1,724.5 811.7,730.0 811.7,739.2 807.1,744.7 803.4,750.2 798.8,750.2 792.4,744.7 787.8,735.5"/>
<polygon fill="#e08214" points="610.8,698.8 638.3,698.8 638.3,719.0 610.8,719.0"/>
<polygon fill="#e08214" points="939.1,698.8 957.5,698.8 957.5,711.7 948.3,715.3 942.8,719.0 939.1,719.0"/>
<polygon fill="#e08214" points="977.7,717.2 986.8,713.5 994.2,709.8 1005.2,708.0 1023.5,708.0 1036.0,713.5 1036.0,722.7 1023.5,719.0 1016.2,715.3 1005.2,715.3 996.0,719.0 994.2,728.2 990.5,733.7 986.8,726.3 979.5,722.7"/>
<polygon fill="#e08214" points="906.1,713.5 913.5,708.0 922.6,708.0 920.8,715.3 915.3,722.7 908.0,719.0"/>
<polygon fill="#e08214" points="847.4,719.9 856.6,720.8 858.4,731.8 860.3,739.2 854.8,739.2 852.9,730.0"/>
<polygon fill="#e08214" points="880.5,717.2 884.1,715.3 890.5,720.8 886.0,724.5 881.4,726.3"/>
<rect x="469" y="708" width="567" height="412" fill="#7f7f7f" mask="url(#mk1)"/>
</g>
<g clip-path="url(#cl2)">
<rect x="469" y="1120" width="567" height="368" fill="#f7f7f7"/>
<polygon fill="#fdb863" points="639.0,1121.0 649.0,1126.0 654.0,1126.0 659.0,1126.0 664.0,1131.0 664.0,1146.0 669.0,1156.0 672.8,1161.0 674.0,1176.0 676.5,1181.0 684.0,1183.5 676.5,1186.0 676.5,1196.0 671.5,1198.5 671.5,1213.5 669.0,1226.0 676.5,1231.0 676.5,1261.0 671.5,1261.0 671.5,1273.5 666.5,1276.0 659.0,1268.5 659.0,1261.0 664.0,1256.0 666.5,1251.0 669.0,1236.0 661.5,1241.0 646.5,1243.5 644.0,1248.5 636.5,1251.0 639.0,1261.0 641.5,1268.5 636.5,1273.5 631.5,1273.5 629.0,1278.5 629.0,1288.5 619.0,1288.5 612.8,1296.0 609.0,1293.5 599.0,1276.0 591.5,1251.0 591.5,1238.5 604.0,1226.0 612.8,1213.5 619.0,1201.0 620.2,1181.0 634.0,1172.2 646.5,1176.0 655.2,1179.8 655.2,1172.2 644.0,1166.0 634.0,1151.0 631.5,1121.0"/>
<polygon fill="#e08214" points="619.0,1188.5 622.8,1187.2 626.5,1196.0 621.5,1202.2 619.0,1198.5"/>
<polygon fill="#e08214" points="647.8,1179.8 652.8,1179.8 656.5,1188.5 664.0,1196.0 662.8,1201.0 659.0,1203.5 655.2,1211.0 652.8,1206.0 649.0,1196.0"/>
<polygon fill="#fdb863" points="719.0,1103.5 730.2,1103.0 732.8,1111.0 736.5,1118.5 734.0,1128.5 729.0,1132.2 716.5,1132.2 711.5,1137.2 709.0,1141.0 705.2,1136.0 704.0,1126.0 710.2,1121.0 710.2,1113.5 717.8,1113.5"/>
<polygon fill="#fdb863" points="804.0,1211.0 806.5,1211.0 811.5,1216.0 815.2,1223.5 821.5,1226.0 826.5,1226.0 831.5,1229.8 841.5,1229.8 846.5,1228.5 849.0,1233.5 854.0,1241.0 846.5,1243.5 839.0,1246.0 837.8,1251.0 834.0,1246.0 829.0,1241.0 824.0,1236.0 819.0,1238.5 816.5,1241.0 812.8,1241.0 812.8,1236.0 816.5,1231.0 811.5,1226.0 799.0,1224.8"/>
<polygon fill="#fdb863" points="906.5,1153.5 914.0,1153.5 914.0,1168.5 911.5,1181.0 911.5,1198.5 899.0,1198.5 891.5,1201.0 889.0,1213.5 900.2,1213.5 906.5,1221.0 909.0,1231.0 901.5,1236.0 899.0,1241.0 894.0,1243.5 891.5,1251.0 894.0,1261.0 896.5,1271.0 899.0,1276.0 889.0,1276.0 886.5,1287.2 879.0,1287.2 874.0,1283.5 869.0,1278.5 869.0,1261.0 874.0,1256.0 874.0,1246.0 872.8,1236.0 874.0,1216.0 884.0,1213.5 889.0,1203.5 881.5,1198.5 880.2,1188.5 886.5,1186.0 889.0,1176.0 894.0,1171.0 894.0,1163.5 899.0,1161.0 906.5,1158.5"/>
<polygon fill="#fdb863" points="954.0,1076.0 957.8,1076.0 957.8,1098.5 962.8,1101.0 964.0,1121.0 974.0,1122.2 981.5,1126.0 981.5,1141.0 971.5,1141.0 969.0,1133.5 966.5,1141.0 964.0,1148.5 956.5,1152.2 950.2,1152.2 947.8,1138.5 945.2,1126.0 941.5,1121.0 939.0,1113.5 931.5,1108.5 931.5,1103.5 934.0,1098.5 939.0,1087.2 950.2,1087.2 951.5,1076.0"/>
<polygon fill="#fdb863" points="1024.0,1122.2 1034.0,1121.0 1036.0,1113.5 1044.0,1113.5 1044.0,1191.0 1041.5,1213.5 1034.0,1213.5 1031.5,1188.5 1026.5,1181.0 1020.2,1176.0 1020.2,1168.5 1025.2,1167.2 1026.5,1158.5 1026.5,1126.0"/>
<polygon fill="#fdb863" points="947.8,1243.5 954.0,1236.0 964.0,1233.5 965.2,1228.5 976.5,1226.0 981.5,1229.8 985.2,1236.0 990.2,1233.5 994.0,1226.0 996.5,1222.2 1007.8,1223.5 1007.8,1231.0 1002.8,1238.5 999.0,1246.0 996.5,1256.0 994.0,1266.0 996.5,1276.0 1006.5,1276.0 1011.5,1278.5 1019.0,1276.0 1020.2,1287.2 1014.0,1288.5 1009.0,1291.0 1007.8,1306.0 1004.0,1313.5 1002.8,1318.5 999.0,1313.5 994.0,1306.0 991.5,1296.0 986.5,1287.2 980.2,1286.0 981.5,1281.0 987.8,1279.8 989.0,1273.5 987.8,1266.0 979.0,1268.5 972.8,1266.0 971.5,1258.5 964.0,1261.0 956.5,1261.0 951.5,1256.0 946.5,1251.0"/>
<polygon fill="#fdb863" points="896.5,1298.5 906.5,1297.2 926.5,1296.0 931.5,1303.5 939.0,1303.5 939.0,1313.5 934.0,1316.0 930.2,1318.5 926.5,1323.5 924.0,1328.5 930.2,1331.0 929.0,1338.5 926.5,1341.0 919.0,1336.0 914.0,1341.0 911.5,1346.0 909.0,1351.0 904.0,1353.5 901.5,1358.5 901.5,1366.0 909.0,1363.5 911.5,1361.0 914.0,1366.0 914.0,1371.0 911.5,1376.0 911.5,1396.0 904.0,1396.0 899.0,1386.0 896.5,1396.0 881.5,1396.0 884.0,1381.0 891.5,1378.5 889.0,1371.0 879.0,1368.5 876.5,1361.0 872.8,1351.0 879.0,1349.8 884.0,1343.5 889.0,1348.5 894.0,1346.0 899.0,1343.5 894.0,1341.0 894.0,1336.0 904.0,1333.5 909.0,1328.5 909.0,1323.5 904.0,1321.0 899.0,1316.0 896.5,1308.5"/>
<polygon fill="#fdb863" points="939.0,1324.8 949.0,1323.5 954.0,1331.0 952.8,1341.0 952.8,1351.0 952.8,1361.0 956.5,1361.0 957.8,1376.0 965.2,1378.5 971.5,1383.5 971.5,1388.5 966.5,1391.0 959.0,1391.0 954.0,1388.5 949.0,1393.5 944.0,1396.0 924.0,1396.0 919.0,1391.0 916.5,1386.0 919.0,1383.5 926.5,1383.5 929.0,1371.0 934.0,1367.2 936.5,1358.5 939.0,1346.0 939.0,1336.0"/>
<polygon fill="#f7f7f7" points="940.2,1379.8 951.5,1378.5 952.8,1387.2 941.5,1388.5"/>
<polygon fill="#fdb863" points="874.5,1404.8 877.8,1403.5 881.5,1413.5 884.0,1424.8 879.0,1423.5 875.2,1416.0"/>
<polygon fill="#fdb863" points="1019.0,1356.0 1026.5,1347.2 1031.5,1346.0 1031.5,1351.0 1024.0,1356.0 1019.0,1363.5"/>
<polygon fill="#fdb863" points="719.0,1379.8 730.2,1377.2 730.2,1381.0 721.5,1387.2"/>
<polygon fill="#fdb863" points="761.0,1276.0 766.0,1276.0 765.2,1287.2 761.5,1287.2"/>
<polygon fill="#fdb863" points="931.5,1186.0 941.5,1186.0 945.2,1193.5 931.5,1194.8"/>
<polygon fill="#fdb863" points="858.5,1181.0 868.5,1180.5 868.5,1186.0 865.2,1189.8 859.0,1186.0"/>
<rect x="469" y="1120" width="567" height="368" fill="#7f7f7f" mask="url(#mk2)"/>
</g>
<g clip-path="url(#cl3)">
<rect x="1036" y="296" width="567" height="412" fill="#f7f7f7"/>
<polygon fill="#fdb863" points="1023.5,416.0 1036.0,416.0 1052.2,414.8 1053.5,401.0 1068.5,399.8 1076.0,384.8 1093.5,377.2 1108.5,369.8 1111.0,368.5 1121.0,383.5 1146.0,383.5 1147.2,403.5 1136.0,403.5 1141.0,412.2 1151.0,413.5 1158.5,403.5 1168.5,416.0 1176.0,423.5 1177.2,431.0 1161.0,433.5 1148.5,436.0 1143.5,446.0 1118.5,446.0 1111.0,451.0 1112.2,461.0 1106.0,466.0 1101.0,476.0 1111.0,491.0 1108.5,501.0 1109.8,521.0 1111.0,538.5 1121.0,538.5 1123.5,526.0 1136.0,521.0 1153.5,519.8 1166.0,522.2 1176.0,519.8 1179.8,513.5 1181.0,503.5 1176.0,496.0 1178.5,493.5 1191.0,499.8 1191.0,516.0 1181.0,523.5 1179.8,543.5 1171.0,546.0 1156.0,547.2 1155.5,587.2 1146.0,588.5 1143.5,603.5 1133.5,604.8 1123.5,606.0 1121.0,596.0 1116.0,583.5 1108.5,581.0 1103.5,589.8 1108.5,601.0 1118.5,606.0 1121.0,616.0 1111.0,618.5 1108.5,628.5 1098.5,628.5 1096.0,658.5 1098.5,671.0 1103.5,678.5 1118.5,676.0 1123.5,686.0 1126.0,708.0 1023.5,708.0"/>
<polygon fill="#f7f7f7" points="1047.2,436.0 1054.8,418.5 1066.0,413.5 1073.5,421.0 1088.5,423.5 1084.8,433.5 1093.5,448.5 1111.0,451.0 1111.0,461.0 1098.5,468.5 1097.2,476.0 1083.5,468.5 1068.5,463.5 1058.5,466.0 1043.5,468.5 1038.5,456.0 1046.0,451.0"/>
<polygon fill="#f7f7f7" points="1118.5,446.0 1143.5,446.0 1146.0,456.0 1136.0,466.0 1131.0,471.0 1116.0,468.5 1112.2,458.5"/>
<polygon fill="#f7f7f7" points="1103.5,476.0 1111.0,471.0 1131.0,471.0 1136.0,481.0 1136.0,493.5 1146.0,496.0 1156.0,508.5 1161.0,516.0 1153.5,519.8 1136.0,521.0 1123.5,526.0 1121.0,538.5 1111.0,538.5 1109.8,521.0 1108.5,501.0 1111.0,491.0 1103.5,483.5"/>
<polygon fill="#f7f7f7" points="1111.0,553.5 1117.2,543.5 1124.8,548.5 1126.0,556.0 1118.5,564.8 1111.0,558.5"/>
<polygon fill="#f7f7f7" points="1104.8,586.0 1111.0,581.0 1116.0,586.0 1121.0,601.0 1111.0,603.5 1104.8,596.0"/>
<polygon fill="#f7f7f7" points="1063.5,571.0 1081.0,566.0 1082.2,573.5 1066.0,578.5"/>
<polygon fill="#f7f7f7" points="1072.2,621.0 1091.0,618.5 1093.5,633.5 1091.0,646.0 1086.0,651.0 1073.5,631.0"/>
<polygon fill="#fdb863" points="1131.0,458.5 1138.5,457.2 1146.0,468.5 1153.5,481.0 1161.0,496.0 1163.5,511.0 1158.5,516.0 1151.0,503.5 1143.5,491.0 1136.0,476.0"/>
<polygon fill="#fdb863" points="1193.5,531.0 1208.5,531.0 1208.5,538.5 1226.0,539.8 1224.8,548.5 1221.0,551.0 1223.5,566.0 1227.2,573.5 1226.0,596.0 1216.0,596.0 1211.0,591.0 1208.5,578.5 1198.5,571.0 1201.0,561.0 1191.0,556.0 1193.5,541.0 1188.5,539.8"/>
<polygon fill="#fdb863" points="1206.0,454.8 1216.0,457.2 1226.0,461.0 1233.5,451.0 1238.5,456.0 1239.8,471.0 1228.5,471.0 1228.5,476.0 1226.0,486.0 1223.5,496.0 1226.0,511.0 1231.0,516.0 1223.5,522.2 1216.0,521.0 1212.2,511.0 1212.2,496.0 1216.0,486.0 1211.0,476.0"/>
<polygon fill="#fdb863" points="1237.2,403.5 1249.8,403.5 1247.2,421.0 1251.0,431.0 1253.5,438.5 1248.5,446.0 1239.8,446.0 1236.0,436.0 1238.5,421.0"/>
<polygon fill="#fdb863" points="1163.5,478.5 1172.2,478.5 1174.8,486.0 1176.0,493.5 1186.0,497.2 1192.2,513.5 1186.0,522.2 1171.0,521.0 1166.0,506.0 1163.5,493.5"/>
<polygon fill="#fdb863" points="1187.2,403.5 1193.0,403.5 1193.0,414.8 1188.5,414.8"/>
<polygon fill="#fdb863" points="1207.2,347.2 1211.0,342.2 1222.2,342.2 1223.5,348.5 1226.0,350.5 1239.8,350.5 1246.0,356.0 1246.0,364.8 1241.0,368.5 1231.0,368.5 1208.5,368.5 1199.8,366.0 1198.5,364.0"/>
<polygon fill="#fdb863" points="1147.2,364.8 1159.8,365.5 1161.0,372.2 1166.0,376.0 1173.5,369.8 1186.0,364.8 1198.5,364.0 1199.8,368.5 1198.5,383.5 1186.0,383.5 1179.8,378.5 1171.0,381.0 1166.0,386.0 1161.0,396.0 1153.5,383.5 1147.2,381.0"/>
<polygon fill="#fdb863" points="1456.0,484.8 1461.0,486.0 1464.8,503.5 1466.0,516.0 1468.5,523.5 1473.5,538.5 1476.0,546.0 1479.8,556.0 1493.5,558.5 1496.0,566.0 1496.0,578.5 1506.0,588.5 1508.5,601.0 1519.8,603.5 1521.0,616.0 1533.5,618.5 1546.0,621.0 1548.5,628.5 1536.0,636.0 1523.5,641.0 1511.0,641.0 1503.5,646.0 1503.5,656.0 1496.0,671.0 1491.0,683.5 1481.0,696.0 1476.0,708.0 1421.0,708.0 1426.0,693.5 1441.0,686.0 1436.0,671.0 1433.5,656.0 1423.5,658.5 1401.0,651.0 1396.0,641.0 1391.0,636.0 1386.0,628.5 1378.5,621.0 1372.2,606.0 1383.5,603.5 1381.0,588.5 1381.0,581.0 1391.0,576.0 1391.0,571.0 1398.5,566.0 1396.0,556.0 1398.5,538.5 1406.0,536.0 1411.0,539.8 1426.0,541.0 1431.0,548.5 1436.0,544.8 1441.0,543.5 1446.0,536.0 1443.5,521.0 1444.8,511.0 1442.2,503.5 1447.2,496.0 1453.5,491.0"/>
<polygon fill="#f7f7f7" points="1443.5,543.5 1451.0,541.0 1458.5,546.0 1461.0,556.0 1453.5,564.8 1446.0,561.0"/>
<polygon fill="#fdb863" points="1571.0,603.5 1581.0,586.0 1611.0,586.0 1611.0,708.0 1478.5,708.0 1486.0,696.0 1496.0,673.5 1506.0,666.0 1521.0,661.0 1526.0,651.0 1536.0,646.0 1543.5,638.5 1551.0,636.0 1561.0,628.5 1568.5,618.5"/>
<polygon fill="#fdb863" points="1473.5,708.0 1481.0,693.5 1493.5,676.0 1501.0,656.0 1503.5,643.5 1523.5,638.5 1548.5,626.0 1563.5,628.5 1551.0,638.5 1536.0,648.5 1523.5,656.0 1506.0,668.5 1496.0,681.0 1486.0,708.0"/>
<polygon fill="#f7f7f7" points="1551.0,641.0 1561.0,633.5 1571.0,646.0 1576.0,666.0 1581.0,681.0 1573.5,686.0 1563.5,676.0 1556.0,661.0"/>
<polygon fill="#fdb863" points="1593.5,466.0 1598.5,458.5 1603.0,456.0 1611.0,456.0 1611.0,481.0 1598.5,481.0"/>
<polygon fill="#fdb863" points="1384.8,450.5 1392.2,450.5 1392.2,457.2 1386.0,457.2"/>
<polygon fill="#fdb863" points="1384.8,666.0 1391.0,662.2 1398.5,668.5 1393.5,673.5 1386.0,671.0"/>
<polygon fill="#e08214" points="1111.0,423.5 1118.5,404.8 1131.0,404.8 1131.0,432.2 1123.5,433.5 1118.5,438.5 1109.8,436.0 1107.2,431.0"/>
<polygon fill="#e08214" points="1079.8,382.2 1092.2,382.2 1092.2,403.5 1081.0,403.5"/>
<polygon fill="#e08214" points="1066.0,477.2 1071.0,477.2 1073.5,488.5 1083.5,488.5 1084.8,477.2 1091.0,477.2 1092.2,487.2 1101.0,488.5 1097.2,496.0 1088.5,496.0 1088.5,503.5 1072.2,503.5 1071.0,496.0 1066.0,488.5"/>
<polygon fill="#e08214" points="1036.0,551.0 1043.5,551.0 1058.5,558.5 1057.2,568.5 1061.0,578.5 1058.5,588.5 1051.0,596.0 1043.5,603.5 1036.0,603.5"/>
<polygon fill="#e08214" points="1036.0,618.5 1043.5,618.5 1048.5,636.0 1061.0,646.0 1066.0,651.0 1063.5,661.0 1053.5,663.5 1046.0,666.0 1036.0,663.5"/>
<polygon fill="#e08214" points="1066.0,671.0 1076.0,666.0 1083.5,656.0 1093.5,661.0 1098.5,678.5 1106.0,686.0 1111.0,696.0 1121.0,706.0 1123.5,708.0 1066.0,708.0"/>
<polygon fill="#e08214" points="1198.5,551.0 1201.0,541.0 1207.2,539.8 1207.2,546.0 1201.0,557.2"/>
<polygon fill="#e08214" points="1406.0,561.0 1418.5,558.5 1431.0,563.5 1436.0,568.5 1436.0,581.0 1443.5,586.0 1451.0,593.5 1461.0,598.5 1473.5,598.5 1478.5,606.0 1483.5,618.5 1486.0,626.0 1483.5,631.0 1471.0,631.0 1468.5,621.0 1461.0,611.0 1451.0,611.0 1441.0,603.5 1431.0,603.5 1418.5,603.5 1411.0,598.5 1406.0,588.5 1403.5,576.0 1406.0,571.0"/>
<polygon fill="#e08214" points="1469.8,571.0 1481.0,566.0 1478.5,586.0 1473.5,591.0 1469.8,583.5"/>
<polygon fill="#e08214" points="1493.5,613.5 1501.0,616.0 1498.5,631.0 1492.2,628.5"/>
<polygon fill="#d5e8d4" points="1243.5,443.5 1248.5,441.0 1261.0,446.0 1268.5,436.0 1269.8,413.5 1276.0,411.0 1281.0,423.5 1286.0,443.5 1288.5,453.5 1286.0,461.0 1276.0,466.0 1268.5,476.0 1258.5,471.0 1257.2,483.5 1249.8,483.5 1246.0,471.0 1241.0,458.5"/>
<polygon fill="#d5e8d4" points="1563.5,482.2 1573.5,481.0 1583.5,477.2 1586.0,486.0 1592.2,493.5 1603.0,492.2 1603.0,496.0 1576.0,496.0 1573.5,503.5 1568.5,503.5 1568.5,493.5 1563.5,491.0"/>
<polygon fill="#d5e8d4" points="1268.5,686.0 1287.2,686.0 1287.2,693.5 1283.5,693.5 1283.5,701.0 1277.2,701.0 1277.2,693.5 1269.8,693.5"/>
<rect x="1036" y="296" width="567" height="412" fill="#7f7f7f" mask="url(#mk3)"/>
</g>
<g clip-path="url(#cl4)">
<rect x="1036" y="708" width="567" height="412" fill="#f7f7f7"/>
<polygon fill="#fdb863" points="1023.5,695.5 1128.5,695.5 1126.0,723.0 1118.5,728.0 1123.5,740.5 1118.5,750.5 1111.0,758.0 1103.5,758.0 1103.5,765.5 1096.0,758.0 1091.0,763.0 1081.0,768.0 1073.5,775.5 1072.2,785.5 1079.8,793.0 1086.0,790.5 1088.5,793.0 1093.5,813.0 1098.5,818.0 1098.5,825.5 1096.0,830.5 1108.5,838.0 1111.0,843.0 1091.0,843.0 1081.0,846.8 1076.0,843.0 1061.0,838.0 1053.5,835.5 1046.0,833.0 1041.0,838.0 1023.5,838.0"/>
<polygon fill="#e08214" points="1023.5,713.0 1041.0,713.0 1046.0,723.0 1053.5,725.5 1061.0,733.0 1056.0,740.5 1046.0,740.5 1023.5,733.0"/>
<polygon fill="#e08214" points="1084.8,695.5 1123.5,695.5 1122.2,718.0 1118.5,723.0 1108.5,725.5 1104.8,733.0 1118.5,740.5 1118.5,750.5 1101.0,745.5 1098.5,740.5 1088.5,739.2 1084.8,733.0"/>
<polygon fill="#fdb863" points="1103.5,798.0 1111.0,798.0 1118.5,801.8 1118.5,804.2 1103.5,804.2"/>
<polygon fill="#fdb863" points="1123.0,818.0 1128.5,818.0 1128.5,831.8 1123.5,831.8"/>
<polygon fill="#fdb863" points="1272.2,813.0 1282.2,813.0 1286.0,809.2 1291.0,809.2 1298.5,813.0 1301.0,818.0 1308.5,825.5 1316.0,825.5 1318.5,830.5 1326.0,835.5 1328.5,843.0 1326.0,851.8 1321.0,851.8 1314.8,848.0 1308.5,851.8 1296.0,851.8 1293.5,845.5 1286.0,853.0 1279.8,855.5 1276.0,865.5 1272.2,870.5 1263.5,870.5 1262.2,858.0 1257.2,855.5 1258.5,848.0 1261.0,825.5 1271.0,823.0"/>
<polygon fill="#fdb863" points="1301.0,859.2 1308.5,859.2 1309.8,870.5 1314.8,875.5 1316.0,888.0 1311.0,893.0 1314.8,898.0 1313.5,901.8 1301.0,903.0 1296.0,905.5 1303.5,893.0 1306.0,883.0 1301.0,873.0"/>
<polygon fill="#fdb863" points="1061.0,908.0 1071.0,905.5 1072.2,915.5 1081.0,913.0 1081.0,905.5 1088.5,898.0 1093.5,898.0 1099.8,908.0 1108.5,908.0 1116.0,903.0 1123.5,898.0 1128.5,898.0 1128.5,923.0 1123.5,928.0 1116.0,935.5 1108.5,928.0 1101.0,923.0 1098.5,933.0 1094.8,940.5 1086.0,944.2 1084.8,958.0 1087.2,965.5 1079.8,966.8 1073.5,970.5 1068.5,978.0 1064.8,985.5 1061.0,978.0 1053.5,978.0 1053.5,968.0 1058.5,960.5 1066.0,955.5 1067.2,943.0 1071.0,940.5 1077.2,948.0 1081.0,941.8 1079.8,933.0 1071.0,925.5 1066.0,923.0 1068.5,915.5 1061.0,915.5"/>
<polygon fill="#fdb863" points="1038.5,960.5 1047.2,960.5 1046.0,968.0 1042.2,973.0 1046.0,978.0 1051.0,980.5 1052.2,985.5 1047.2,985.5 1038.5,973.0"/>
<polygon fill="#fdb863" points="1143.5,975.5 1147.2,973.0 1146.0,953.0 1151.0,944.2 1156.0,940.5 1161.0,933.0 1156.0,928.0 1156.0,921.8 1162.2,913.0 1168.5,911.8 1169.8,898.0 1176.0,898.0 1177.2,905.5 1183.5,901.8 1192.2,901.8 1198.5,913.0 1201.0,921.8 1211.0,918.0 1218.5,913.0 1231.0,913.0 1236.0,905.5 1243.5,905.5 1246.0,915.5 1249.8,923.0 1243.5,928.0 1238.5,930.5 1236.0,940.5 1243.5,944.2 1244.8,958.0 1249.8,968.0 1251.0,983.0 1253.5,993.0 1256.0,1008.0 1257.2,1020.5 1258.5,1033.0 1271.0,1035.5 1276.0,1030.5 1283.5,1033.0 1286.0,1040.5 1286.0,1058.0 1283.5,1070.5 1283.5,1083.0 1276.0,1088.0 1271.0,1098.0 1263.5,1098.0 1256.0,1108.0 1251.0,1120.0 1098.5,1120.0 1111.0,1103.0 1114.8,1073.0 1118.5,1065.5 1126.0,1053.0 1136.0,1048.0 1143.5,1043.0 1153.5,1038.0 1154.8,1015.5 1151.0,1013.0 1156.0,1008.0 1156.0,983.0"/>
<polygon fill="#f7f7f7" points="1213.5,998.0 1221.0,993.0 1233.5,993.0 1243.5,998.0 1244.8,1008.0 1246.0,1025.5 1243.5,1033.0 1231.0,1035.5 1221.0,1033.0 1216.0,1023.0 1212.2,1013.0"/>
<polygon fill="#f7f7f7" points="1153.5,1103.0 1158.5,1098.0 1166.0,1095.5 1171.0,1100.5 1176.0,1108.0 1186.0,1113.0 1191.0,1120.0 1153.5,1120.0"/>
<polygon fill="#f7f7f7" points="1206.0,1053.0 1216.0,1051.8 1226.0,1053.0 1226.0,1065.5 1221.0,1073.0 1211.0,1083.0 1206.0,1098.0 1198.5,1103.0 1193.5,1098.0 1196.0,1083.0 1201.0,1068.0"/>
<polygon fill="#e08214" points="1172.2,940.5 1187.2,940.5 1187.2,948.0 1181.0,950.5 1181.0,958.0 1186.0,960.5 1193.5,958.0 1198.5,960.5 1201.0,968.0 1206.0,975.5 1203.5,980.5 1201.0,985.5 1188.5,988.0 1181.0,985.5 1179.8,973.0 1179.8,960.5 1176.0,950.5 1169.8,949.2"/>
<polygon fill="#e08214" points="1161.0,933.0 1168.5,933.0 1168.5,939.2 1162.2,939.2"/>
<polygon fill="#e08214" points="1226.0,933.0 1233.5,929.2 1238.5,929.2 1238.5,939.2 1226.0,939.2"/>
<polygon fill="#fdb863" points="1256.0,954.2 1276.0,953.0 1277.2,940.5 1286.0,938.0 1289.8,933.0 1293.5,928.0 1306.0,933.0 1307.2,940.5 1327.2,940.5 1328.5,950.5 1338.5,953.0 1341.0,963.0 1347.2,965.5 1353.5,970.5 1363.5,970.5 1371.0,960.5 1381.0,960.5 1386.0,948.0 1404.8,948.0 1406.0,954.2 1401.0,955.5 1402.2,968.0 1411.0,975.5 1412.2,985.5 1431.0,985.5 1433.5,979.2 1441.0,976.8 1442.2,968.0 1453.5,956.8 1461.0,965.5 1463.5,975.5 1462.2,986.8 1448.5,988.0 1461.0,993.0 1476.0,998.0 1479.8,1005.5 1486.0,1008.0 1493.5,1013.0 1496.0,1028.0 1506.0,1030.5 1511.0,1035.5 1511.0,1053.0 1506.0,1070.5 1498.5,1078.0 1498.5,1090.5 1506.0,1095.5 1506.0,1108.0 1501.0,1120.0 1256.0,1120.0 1256.0,1098.0 1261.0,1088.0 1266.0,1083.0 1276.0,1078.0 1283.5,1070.5 1286.0,1058.0 1286.0,1040.5 1283.5,1033.0 1276.0,1030.5 1271.0,1035.5 1258.5,1033.0 1257.2,1020.5 1256.0,1008.0 1253.5,993.0 1256.0,978.0"/>
<polygon fill="#f7f7f7" points="1388.5,960.5 1398.5,959.2 1401.0,968.0 1411.0,975.5 1412.2,985.5 1388.5,985.5"/>
<polygon fill="#f7f7f7" points="1362.2,1023.0 1376.0,1020.5 1377.2,1038.0 1366.0,1040.5 1362.2,1033.0"/>
<polygon fill="#f7f7f7" points="1261.0,988.0 1281.0,983.0 1282.2,988.0 1277.2,990.5 1276.0,1005.5 1262.2,1006.8"/>
<polygon fill="#e08214" points="1273.5,1080.5 1282.2,1078.0 1282.2,1058.0 1288.5,1051.8 1296.0,1053.0 1301.0,1043.0 1313.5,1040.5 1317.2,1033.0 1319.8,1040.5 1326.0,1045.5 1327.2,1058.0 1333.5,1058.0 1336.0,1068.0 1346.0,1065.5 1348.5,1053.0 1358.5,1048.0 1363.5,1043.0 1373.5,1043.0 1378.5,1040.5 1391.0,1035.5 1396.0,1025.5 1401.0,1035.5 1411.0,1040.5 1418.5,1040.5 1422.2,1033.0 1423.5,1021.8 1436.0,1020.5 1437.2,1030.5 1441.0,1031.8 1433.5,1035.5 1431.0,1053.0 1426.0,1058.0 1436.0,1065.5 1446.0,1068.0 1446.0,1078.0 1448.5,1085.5 1456.0,1088.0 1458.5,1098.0 1466.0,1103.0 1481.0,1103.0 1488.5,1108.0 1493.5,1120.0 1273.5,1120.0 1272.2,1098.0"/>
<polygon fill="#fdb863" points="1328.5,1073.0 1343.5,1070.5 1358.5,1075.5 1361.0,1088.0 1353.5,1095.5 1336.0,1098.0 1327.2,1088.0"/>
<polygon fill="#fdb863" points="1356.0,1063.0 1368.5,1060.5 1386.0,1063.0 1391.0,1073.0 1386.0,1083.0 1368.5,1085.5 1358.5,1080.5"/>
<polygon fill="#fdb863" points="1446.0,1068.0 1466.0,1068.0 1468.5,1088.0 1461.0,1093.0 1448.5,1085.5"/>
<polygon fill="#e08214" points="1456.0,1048.0 1468.5,1048.0 1468.5,1068.0 1456.0,1068.0"/>
<polygon fill="#e08214" points="1311.0,968.0 1316.0,960.5 1322.2,968.0 1318.5,978.0 1314.8,978.0"/>
<polygon fill="#fdb863" points="1508.5,1008.0 1516.0,1005.5 1521.0,1013.0 1543.5,1013.0 1551.0,1003.0 1556.0,998.0 1561.0,988.0 1568.5,978.0 1571.0,970.5 1581.0,968.0 1586.0,970.5 1593.5,968.0 1603.0,968.0 1611.0,968.0 1611.0,1108.0 1598.5,1105.5 1588.5,1098.0 1576.0,1088.0 1571.0,1073.0 1556.0,1068.0 1551.0,1058.0 1546.0,1053.0 1541.0,1043.0 1533.5,1038.0 1521.0,1040.5 1511.0,1035.5 1506.0,1030.5"/>
<polygon fill="#f7f7f7" points="1511.0,1043.0 1533.5,1043.0 1538.5,1053.0 1536.0,1073.0 1533.5,1088.0 1526.0,1098.0 1518.5,1098.0 1511.0,1088.0 1508.5,1070.5"/>
<polygon fill="#fdb863" points="1388.5,908.0 1461.0,908.0 1461.0,923.0 1451.0,925.5 1438.5,924.2 1428.5,913.0 1417.2,913.0 1416.0,923.0 1406.0,925.5 1406.0,933.0 1396.0,933.0 1391.0,928.0 1381.0,933.0 1378.5,943.0 1371.0,950.5 1368.5,943.0 1361.0,933.0 1356.0,923.0 1361.0,913.0 1368.5,915.5 1376.0,928.0 1383.5,923.0 1386.0,915.5"/>
<polygon fill="#d5e8d4" points="1219.8,725.5 1226.0,724.2 1226.0,739.2 1219.8,739.2"/>
<polygon fill="#fdb863" points="1343.8,731.8 1353.1,731.8 1353.1,739.9 1357.5,743.0 1361.2,748.0 1365.6,751.1 1366.2,769.2 1361.2,769.9 1357.5,775.5 1355.0,778.0 1353.1,783.0 1355.0,785.5 1355.0,794.2 1357.5,795.5 1357.5,798.0 1353.1,800.5 1346.9,794.2 1346.9,786.1 1336.2,785.5 1333.8,770.5 1333.8,755.5 1336.2,751.1 1338.8,747.4 1341.9,744.2 1343.8,741.8"/>
<polygon fill="#fdb863" points="1380.0,778.0 1385.0,778.0 1385.0,794.2 1380.0,794.2 1380.0,801.1 1372.5,801.1 1373.8,790.5 1380.0,789.9"/>
<polygon fill="#fdb863" points="1333.8,798.0 1336.2,798.0 1338.8,801.8 1341.9,805.5 1341.9,813.0 1328.1,813.0 1328.1,804.9 1333.8,804.9"/>
<polygon fill="#fdb863" points="1423.8,701.8 1471.2,701.8 1471.2,713.0 1474.4,724.2 1477.5,731.8 1480.0,739.2 1487.5,739.2 1485.0,731.8 1485.0,720.5 1488.1,719.9 1487.5,701.8 1607.5,701.8 1607.5,766.8 1540.0,766.8 1526.2,766.8 1522.5,774.2 1520.0,781.8 1516.2,785.5 1507.5,782.4 1501.2,785.5 1501.2,798.0 1496.2,798.0 1490.0,805.5 1488.1,813.0 1482.5,813.0 1480.0,805.5 1474.4,804.9 1474.4,790.5 1476.9,789.9 1477.5,782.4 1482.5,781.8 1481.9,770.5 1477.5,768.0 1480.0,763.0 1475.0,759.2 1467.5,766.8 1465.6,763.0 1463.1,759.2 1455.0,759.2 1455.0,748.0 1447.5,747.4 1446.2,750.5 1439.4,751.1 1436.2,755.5 1433.8,759.2 1433.8,769.2 1431.2,770.5 1430.6,778.0 1423.1,778.6 1422.5,789.2 1420.0,790.5 1417.5,794.2 1416.9,798.0 1423.8,798.0 1425.0,794.2 1426.2,800.5 1428.1,798.0 1431.2,800.5 1434.4,798.0 1438.8,798.0 1439.4,804.9 1450.0,804.9 1450.6,808.6 1453.8,805.5 1455.0,801.1 1458.1,801.1 1458.1,808.6 1455.0,809.2 1455.0,824.2 1450.0,824.9 1450.0,831.8 1458.1,832.4 1458.1,835.5 1455.0,836.8 1455.0,843.6 1450.0,844.2 1447.5,848.6 1450.0,851.8 1450.0,859.2 1455.0,859.2 1455.0,867.4 1460.6,868.0 1460.6,870.5 1455.0,871.1 1455.0,875.5 1458.1,876.1 1457.5,879.2 1455.0,879.9 1458.1,883.0 1458.1,894.2 1461.2,894.2 1461.2,906.1 1455.0,906.8 1455.0,915.5 1390.0,915.5 1393.8,906.8 1396.2,901.8 1399.4,894.2 1403.8,893.6 1404.4,886.1 1412.5,885.5 1415.0,879.2 1423.1,878.6 1426.2,874.2 1426.2,866.8 1427.5,863.0 1426.2,859.2 1415.0,859.2 1412.5,863.0 1408.8,866.8 1408.8,870.5 1396.2,870.5 1396.2,867.4 1399.4,866.8 1399.4,854.9 1401.2,851.8 1404.4,851.1 1404.4,836.1 1407.5,835.5 1407.5,832.4 1411.9,832.4 1411.9,835.5 1416.9,836.1 1416.9,831.8 1412.5,826.1 1412.5,813.0 1409.4,812.4 1408.8,804.2 1407.5,803.0 1408.8,799.9 1407.5,794.2 1408.8,790.5 1407.5,786.1 1404.4,785.5 1403.8,778.0 1399.4,777.4 1399.4,770.5 1401.2,766.8 1404.4,766.8 1405.0,755.5 1400.0,755.5 1400.0,758.6 1399.4,746.8 1396.2,746.1 1396.2,736.1 1399.4,735.5 1400.0,732.4 1403.8,731.8 1404.4,750.5 1406.9,750.5 1407.5,743.0 1409.4,736.8 1412.5,736.1 1412.5,732.4 1416.2,731.8 1416.2,724.2 1417.5,731.8 1423.1,731.8 1423.1,723.6 1426.2,722.4 1425.6,719.9 1423.1,719.2 1423.1,713.0 1427.5,712.4"/>
<polygon fill="#f7f7f7" points="1474.4,739.9 1482.5,743.0 1482.5,746.8 1485.0,751.1 1485.0,754.9 1482.5,755.5 1482.5,759.2 1474.4,759.2"/>
<polygon fill="#fdb863" points="1442.5,763.0 1444.4,763.0 1445.0,767.4 1455.0,768.0 1455.0,770.5 1450.0,770.5 1450.0,773.6 1442.5,773.6"/>
<polygon fill="#fdb863" points="1463.1,778.0 1469.4,778.0 1469.4,786.1 1463.1,786.1"/>
<polygon fill="#fdb863" points="1540.0,766.8 1607.5,766.8 1607.5,855.5 1596.2,854.9 1590.0,851.8 1590.0,831.8 1585.0,831.8 1583.8,825.5 1582.5,833.0 1581.2,839.2 1577.5,839.2 1577.5,833.0 1571.2,831.8 1573.8,825.5 1575.0,817.4 1576.9,816.8 1576.9,805.5 1569.4,804.9 1568.8,801.1 1563.8,800.5 1561.2,794.2 1555.0,794.2 1555.0,786.1 1550.0,785.5 1550.0,778.0 1544.4,778.0 1543.8,770.5"/>
<polygon fill="#e08214" points="1543.8,701.8 1568.8,701.8 1568.8,719.9 1565.0,720.5 1563.1,724.2 1563.1,739.2 1558.8,739.9 1558.8,743.0 1561.2,743.6 1563.1,748.0 1563.1,750.5 1558.1,751.1 1558.1,758.6 1550.0,759.2 1550.0,766.8 1553.1,766.8 1553.1,763.0 1562.5,763.0 1566.2,766.8 1566.2,778.0 1563.1,778.0 1563.1,774.2 1550.0,773.6 1550.0,769.9 1544.4,769.9 1539.4,766.8 1539.4,759.2 1534.4,758.0 1534.4,748.0 1536.2,743.6 1539.4,743.0 1539.4,725.5 1536.2,723.6 1536.2,716.8 1539.4,713.0 1543.8,713.0"/>
<polygon fill="#e08214" points="1571.2,778.0 1588.1,778.0 1588.1,785.5 1593.1,786.1 1593.8,794.2 1595.0,798.0 1577.5,794.2 1573.8,789.9 1571.2,785.5"/>
<polygon fill="#e08214" points="1498.1,731.8 1501.2,731.8 1501.2,739.9 1498.1,739.9"/>
<polygon fill="#e08214" points="1455.0,713.0 1461.2,713.0 1461.2,716.1 1455.0,716.1"/>
<polygon fill="#fdb863" points="1566.2,844.2 1576.9,844.2 1576.9,851.8 1572.5,854.9 1566.2,851.8"/>
<polygon fill="#fdb863" points="1581.2,883.0 1585.0,879.2 1586.2,875.5 1590.0,878.0 1590.0,886.1 1596.2,886.8 1596.9,890.5 1602.5,890.5 1607.5,890.5 1607.5,914.1 1590.0,914.1 1582.5,908.0 1582.5,903.0 1587.5,895.5 1585.0,890.5 1580.6,885.5"/>
<polygon fill="#fdb863" points="1313.8,832.4 1325.6,832.4 1327.5,836.8 1327.5,848.0 1325.6,851.8 1313.8,851.8"/>
<polygon fill="#fdb863" points="1331.2,832.4 1335.6,832.4 1335.6,835.5 1333.8,839.9 1331.2,839.9"/>
<polygon fill="#fdb863" points="1469.4,854.9 1471.9,852.4 1473.8,852.4 1473.8,874.9 1469.4,874.9 1466.2,870.5 1466.2,859.2"/>
<polygon fill="#fdb863" points="1550.4,813.0 1552.9,813.0 1552.9,824.9 1550.4,824.9"/>
<polygon fill="#fdb863" points="1563.1,825.2 1568.8,825.2 1568.8,831.8 1563.1,831.8"/>
<polygon fill="#fdb863" points="1544.4,790.2 1550.0,790.2 1550.0,798.0 1544.4,798.0"/>
<polygon fill="#fdb863" points="1375.0,713.0 1377.5,709.2 1385.0,708.0 1385.0,712.4 1381.9,715.5 1374.4,715.5"/>
<polygon fill="#fdb863" points="1358.1,886.1 1366.0,886.1 1366.0,894.2 1363.1,894.2 1363.1,889.9 1358.1,889.9"/>
</g>
<g clip-path="url(#cl5)">
<rect x="1036" y="1120" width="567" height="368" fill="#f7f7f7"/>
<polygon fill="#fdb863" points="1023.5,1063.5 1611.0,1063.5 1611.0,1351.0 1023.5,1351.0"/>
<polygon fill="#f7f7f7" points="1023.5,1063.5 1113.5,1063.5 1111.0,1086.0 1108.5,1106.0 1101.0,1113.5 1098.5,1121.0 1091.0,1121.0 1088.5,1118.5 1081.0,1118.5 1078.5,1126.0 1078.5,1133.5 1083.5,1138.5 1086.0,1151.0 1101.0,1153.5 1106.0,1161.0 1116.0,1166.0 1118.5,1171.0 1118.5,1193.5 1113.5,1196.0 1111.0,1201.0 1106.0,1206.0 1101.0,1206.0 1096.0,1198.5 1091.0,1191.0 1083.5,1186.0 1081.0,1191.0 1073.5,1201.0 1073.5,1213.5 1068.5,1216.0 1061.0,1213.5 1056.0,1216.0 1053.5,1223.5 1048.5,1223.5 1046.0,1218.5 1041.0,1216.0 1023.5,1216.0"/>
<polygon fill="#f7f7f7" points="1023.5,1216.0 1042.2,1216.0 1043.5,1251.0 1041.0,1276.0 1023.5,1276.0"/>
<polygon fill="#f7f7f7" points="1111.0,1213.5 1118.5,1206.0 1126.0,1198.5 1136.0,1196.0 1142.2,1198.5 1142.2,1221.0 1136.0,1228.5 1128.5,1233.5 1121.0,1226.0 1113.5,1221.0"/>
<polygon fill="#f7f7f7" points="1153.5,1103.5 1161.0,1096.0 1168.5,1096.0 1168.5,1104.8 1186.0,1106.0 1188.5,1101.0 1198.5,1103.5 1211.0,1096.0 1216.0,1101.0 1221.0,1108.5 1226.0,1116.0 1233.5,1118.5 1241.0,1113.5 1261.0,1112.2 1278.5,1113.5 1282.2,1126.0 1273.5,1133.5 1272.2,1141.0 1276.0,1148.5 1278.5,1163.5 1296.0,1168.5 1301.0,1176.0 1311.0,1183.5 1321.0,1188.5 1321.0,1198.5 1313.5,1201.0 1306.0,1206.0 1301.0,1211.0 1293.5,1206.0 1288.5,1206.0 1286.0,1196.0 1278.5,1201.0 1273.5,1211.0 1271.0,1218.5 1261.0,1216.0 1256.0,1206.0 1251.0,1201.0 1251.0,1211.0 1256.0,1221.0 1256.0,1228.5 1246.0,1231.0 1236.0,1233.5 1228.5,1236.0 1223.5,1236.0 1222.2,1229.8 1206.0,1229.8 1204.8,1226.0 1188.5,1227.2 1187.2,1218.5 1181.0,1216.0 1179.8,1203.5 1166.0,1201.0 1163.5,1191.0 1161.0,1181.0 1161.0,1168.5 1166.0,1166.0 1171.0,1153.5 1166.0,1146.0 1163.5,1136.0 1161.0,1126.0 1158.5,1113.5"/>
<polygon fill="#f7f7f7" points="1296.0,1226.0 1308.5,1216.0 1323.5,1211.0 1336.0,1206.0 1347.2,1206.0 1348.5,1193.5 1361.0,1193.5 1363.5,1213.5 1361.0,1231.0 1358.5,1238.5 1346.0,1238.5 1338.5,1241.0 1323.5,1242.2 1321.0,1248.5 1331.0,1251.0 1333.5,1248.5 1346.0,1248.5 1351.0,1251.0 1356.0,1258.5 1361.0,1261.0 1338.5,1261.0 1331.0,1266.0 1329.8,1279.8 1326.0,1278.5 1326.0,1256.0 1321.0,1253.5 1301.0,1254.8 1293.5,1251.0 1288.5,1246.0 1291.0,1238.5 1296.0,1236.0"/>
<polygon fill="#f7f7f7" points="1498.5,1076.0 1533.5,1076.0 1536.0,1083.5 1553.5,1083.5 1563.5,1076.0 1603.0,1076.0 1603.0,1091.0 1598.5,1106.0 1591.0,1111.0 1586.0,1121.0 1593.5,1126.0 1593.5,1133.5 1586.0,1136.0 1568.5,1131.0 1566.0,1121.0 1561.0,1116.0 1558.5,1126.0 1563.5,1133.5 1563.5,1143.5 1561.0,1158.5 1558.5,1168.5 1551.0,1176.0 1546.0,1171.0 1541.0,1163.5 1533.5,1161.0 1526.0,1163.5 1521.0,1161.0 1516.0,1171.0 1513.5,1176.0 1506.0,1181.0 1511.0,1186.0 1516.0,1188.5 1523.5,1191.0 1526.0,1188.5 1538.5,1186.0 1548.5,1188.5 1561.0,1186.0 1571.0,1188.5 1576.0,1201.0 1583.5,1206.0 1588.5,1216.0 1591.0,1226.0 1596.0,1231.0 1598.5,1241.0 1593.5,1241.0 1588.5,1246.0 1586.0,1251.0 1576.0,1248.5 1571.0,1253.5 1566.0,1258.5 1561.0,1266.0 1553.5,1271.0 1556.0,1276.0 1573.5,1273.5 1578.5,1276.0 1586.0,1281.0 1593.5,1288.5 1596.0,1296.0 1591.0,1301.0 1593.5,1308.5 1603.0,1311.0 1603.0,1341.0 1561.0,1316.0 1536.0,1293.5 1538.5,1276.0 1543.5,1266.0 1548.5,1256.0 1546.0,1248.5 1541.0,1241.0 1538.5,1231.0 1536.0,1223.5 1526.0,1216.0 1521.0,1213.5 1513.5,1211.0 1511.0,1201.0 1518.5,1196.0 1513.5,1181.0 1516.0,1166.0 1518.5,1151.0 1521.0,1141.0 1518.5,1136.0 1516.0,1126.0 1511.0,1121.0 1503.5,1118.5 1498.5,1113.5 1501.0,1103.5 1501.0,1091.0 1496.0,1083.5"/>
<polygon fill="#f7f7f7" points="1463.5,1221.0 1471.0,1214.8 1479.8,1214.8 1479.8,1221.0 1473.5,1226.0 1466.0,1233.5"/>
<polygon fill="#f7f7f7" points="1386.0,1238.5 1391.0,1241.0 1398.5,1246.0 1401.0,1256.0 1396.0,1266.0 1396.0,1276.0 1401.0,1286.0 1388.5,1287.2 1386.0,1276.0 1378.5,1271.0 1373.5,1266.0 1372.2,1256.0"/>
<polygon fill="#e08214" points="1273.5,1076.0 1326.0,1076.0 1327.2,1086.0 1338.5,1083.5 1346.0,1083.5 1358.5,1083.5 1361.0,1091.0 1373.5,1091.0 1381.0,1086.0 1388.5,1083.5 1391.0,1076.0 1446.0,1076.0 1451.0,1083.5 1456.0,1091.0 1458.5,1098.5 1458.5,1113.5 1461.0,1121.0 1466.0,1121.0 1466.0,1106.0 1486.0,1103.5 1488.5,1113.5 1493.5,1126.0 1491.0,1138.5 1488.5,1151.0 1486.0,1166.0 1483.5,1173.5 1478.5,1171.0 1476.0,1161.0 1473.5,1151.0 1466.0,1151.0 1466.0,1171.0 1461.0,1181.0 1458.5,1191.0 1453.5,1198.5 1446.0,1201.0 1441.0,1198.5 1441.0,1188.5 1433.5,1181.0 1426.0,1186.0 1418.5,1188.5 1416.0,1196.0 1413.5,1206.0 1413.5,1216.0 1421.0,1223.5 1426.0,1226.0 1421.0,1231.0 1413.5,1228.5 1408.5,1226.0 1403.5,1231.0 1401.0,1236.0 1396.0,1231.0 1391.0,1223.5 1391.0,1216.0 1386.0,1216.0 1386.0,1226.0 1383.5,1241.0 1366.0,1241.0 1366.0,1216.0 1363.5,1201.0 1366.0,1186.0 1361.0,1181.0 1363.5,1171.0 1366.0,1161.0 1373.5,1153.5 1381.0,1148.5 1381.0,1141.0 1388.5,1136.0 1391.0,1126.0 1386.0,1121.0 1386.0,1113.5 1376.0,1113.5 1373.5,1126.0 1366.0,1126.0 1363.5,1121.0 1358.5,1123.5 1353.5,1126.0 1346.0,1126.0 1341.0,1138.5 1336.0,1141.0 1333.5,1131.0 1331.0,1121.0 1323.5,1113.5 1321.0,1106.0 1316.0,1106.0 1313.5,1113.5 1313.5,1123.5 1306.0,1121.0 1301.0,1113.5 1296.0,1106.0 1288.5,1103.5 1283.5,1096.0 1281.0,1088.5 1276.0,1086.0 1273.5,1081.0"/>
<polygon fill="#fdb863" points="1391.0,1149.8 1401.0,1149.8 1403.5,1158.5 1403.5,1168.5 1398.5,1166.0 1393.5,1158.5"/>
<polygon fill="#e08214" points="1434.8,1214.8 1441.0,1213.5 1448.5,1223.5 1449.8,1231.0 1446.0,1238.5 1441.0,1241.0 1438.5,1248.5 1436.0,1243.5 1436.0,1231.0 1433.5,1223.5"/>
<polygon fill="#e08214" points="1416.0,1242.2 1426.0,1242.2 1427.2,1251.0 1426.0,1261.0 1423.5,1266.0 1423.5,1278.5 1418.5,1276.0 1416.0,1266.0 1414.8,1256.0"/>
<polygon fill="#e08214" points="1328.5,1161.0 1334.8,1161.0 1336.0,1168.5 1346.0,1168.5 1351.0,1171.0 1358.5,1164.8 1358.5,1173.5 1351.0,1176.0 1351.0,1181.0 1343.5,1178.5 1336.0,1177.2 1334.8,1183.5 1332.2,1178.5 1328.5,1168.5"/>
<polygon fill="#e08214" points="1073.5,1269.8 1098.5,1269.8 1099.8,1276.0 1086.0,1276.0 1076.0,1279.8 1073.5,1291.0 1071.0,1291.0 1066.0,1283.5 1067.2,1276.0"/>
<polygon fill="#b35806" points="1403.5,1187.2 1408.5,1187.2 1408.5,1194.8 1412.2,1196.0 1412.2,1202.2 1406.0,1203.5 1403.5,1206.0 1399.8,1203.5 1396.0,1197.2 1397.2,1191.0"/>
<polygon fill="#fdb863" points="1526.0,1131.0 1536.0,1126.0 1543.5,1133.5 1541.0,1141.0 1527.2,1141.0"/>
<polygon fill="#fdb863" points="1548.5,1106.0 1561.0,1103.5 1561.0,1116.0 1551.0,1121.0"/>
<polygon fill="#fdb863" points="1589.8,1296.0 1598.5,1293.5 1603.0,1296.0 1603.0,1311.0 1593.5,1308.5 1589.8,1303.5"/>
<rect x="1036" y="1120" width="567" height="368" fill="#7f7f7f" mask="url(#mk5)"/>
</g>
<g clip-path="url(#cl6)">
<rect x="1603" y="296" width="567" height="412" fill="#f7f7f7"/>
<polygon fill="#fdb863" points="1590.5,396.0 1608.0,396.0 1619.2,396.0 1619.2,413.5 1615.5,421.0 1619.2,423.5 1620.5,433.5 1624.2,439.8 1628.0,443.5 1628.0,448.5 1620.5,449.8 1619.2,458.5 1615.5,463.5 1609.2,467.2 1604.2,471.0 1590.5,471.0"/>
<polygon fill="#fdb863" points="1590.5,608.5 1608.0,607.2 1613.0,596.0 1619.2,593.5 1620.5,603.5 1628.0,606.0 1628.0,618.5 1624.2,626.0 1624.2,638.5 1620.5,641.0 1620.5,648.5 1626.8,649.8 1633.0,639.8 1639.2,639.8 1641.8,651.0 1643.0,658.5 1660.5,659.8 1661.8,669.8 1666.8,671.0 1669.2,681.0 1671.8,686.0 1678.0,691.0 1685.5,691.0 1690.5,686.0 1695.5,678.5 1698.0,674.8 1705.5,676.0 1710.5,666.0 1715.5,666.0 1716.8,678.5 1713.0,691.0 1705.5,693.5 1703.0,701.0 1713.0,703.5 1715.5,708.0 1590.5,708.0"/>
<polygon fill="#f7f7f7" points="1590.5,643.5 1610.5,643.5 1611.8,658.5 1590.5,658.5"/>
<polygon fill="#f7f7f7" points="1606.8,693.5 1614.2,693.5 1614.2,699.8 1606.8,699.8"/>
<polygon fill="#fdb863" points="1669.2,616.0 1671.8,618.5 1678.0,623.5 1678.0,631.0 1676.8,638.5 1671.8,638.5 1670.5,628.5"/>
<polygon fill="#fdb863" points="1693.0,631.0 1696.0,631.0 1696.0,642.2 1693.0,642.2"/>
<polygon fill="#fdb863" points="1678.0,659.8 1684.2,658.5 1684.2,666.0 1681.8,673.5 1679.2,673.5"/>
<polygon fill="#fdb863" points="1747.5,686.0 1755.5,682.2 1760.5,682.2 1760.5,696.0 1758.0,703.5 1753.0,708.0 1750.5,696.0"/>
<polygon fill="#d5e8d4" points="1628.0,384.0 1634.2,384.0 1634.2,391.5 1628.0,391.5"/>
<polygon fill="#d5e8d4" points="1606.8,373.5 1614.2,373.5 1614.2,379.8 1606.8,379.8"/>
<polygon fill="#d5e8d4" points="1806.8,523.5 1818.0,527.2 1818.0,531.0 1809.2,529.8"/>
<rect x="1603" y="296" width="567" height="412" fill="#7f7f7f" mask="url(#mk6)"/>
</g>
<g clip-path="url(#cl7)">
<rect x="1603" y="708" width="567" height="412" fill="#f7f7f7"/>
<polygon fill="#fdb863" points="1590.5,695.5 1715.5,695.5 1723.0,713.0 1725.5,723.0 1735.5,723.0 1743.0,718.0 1753.0,718.0 1763.0,713.0 1773.0,713.0 1783.0,695.5 1783.0,733.0 1775.5,738.0 1758.0,740.5 1750.5,743.0 1743.0,745.5 1735.5,744.2 1738.0,760.5 1741.8,768.0 1743.0,778.0 1746.8,785.5 1748.0,798.0 1753.0,800.5 1755.5,813.0 1760.5,818.0 1760.5,838.0 1750.5,840.5 1746.8,853.0 1740.5,858.0 1735.5,860.5 1735.5,866.8 1723.0,866.8 1718.0,858.0 1710.5,854.2 1703.0,848.0 1698.0,853.0 1698.0,870.5 1690.5,870.5 1688.0,865.5 1678.0,863.0 1670.5,858.0 1671.8,878.0 1676.8,880.5 1680.5,888.0 1673.0,893.0 1668.0,898.0 1663.0,898.0 1660.5,903.0 1658.0,898.0 1646.8,905.5 1638.0,903.0 1635.5,898.0 1626.8,893.0 1626.8,885.5 1621.8,878.0 1621.8,868.0 1615.5,860.5 1608.0,863.0 1603.0,870.5 1590.5,870.5"/>
<polygon fill="#f7f7f7" points="1603.0,825.5 1618.0,823.0 1620.5,830.5 1638.0,830.5 1639.2,840.5 1628.0,844.2 1613.0,844.2 1603.0,843.0"/>
<polygon fill="#f7f7f7" points="1690.5,723.5 1698.0,723.5 1698.0,731.8 1690.5,731.8"/>
<polygon fill="#f7f7f7" points="1716.8,831.8 1723.0,831.8 1723.0,840.5 1716.8,840.5"/>
<polygon fill="#f7f7f7" points="1633.0,851.8 1638.5,851.8 1638.5,861.8 1633.0,861.8"/>
<polygon fill="#f7f7f7" points="1590.5,800.5 1608.0,800.5 1609.2,816.8 1590.5,818.0"/>
<polygon fill="#e08214" points="1590.5,780.5 1603.0,780.5 1610.5,770.5 1615.5,768.0 1615.5,750.5 1625.5,750.5 1626.8,754.2 1634.2,750.5 1635.5,728.0 1639.2,724.2 1660.5,724.2 1661.8,731.8 1666.8,740.5 1678.0,744.2 1684.2,750.5 1685.5,758.0 1691.8,763.0 1698.0,768.0 1703.0,774.2 1704.2,785.5 1708.0,788.0 1708.0,793.0 1705.5,798.0 1713.0,795.5 1720.5,790.5 1723.0,793.0 1723.0,799.2 1715.5,805.5 1708.0,813.0 1698.0,813.0 1698.0,805.5 1690.5,813.0 1688.0,818.0 1680.5,823.0 1685.5,833.0 1695.5,838.0 1696.8,843.0 1693.0,850.5 1688.0,848.0 1683.0,845.5 1670.5,844.2 1666.8,838.0 1663.0,833.0 1655.5,833.0 1650.5,828.0 1646.8,823.0 1650.5,813.0 1654.2,810.5 1655.5,800.5 1658.0,794.2 1663.0,794.2 1669.2,793.0 1671.8,796.8 1668.0,801.8 1671.8,804.2 1678.0,805.5 1684.2,804.2 1684.2,795.5 1680.5,793.0 1678.0,788.0 1676.8,781.8 1673.0,778.0 1663.0,778.0 1658.0,774.2 1656.8,770.5 1653.0,768.0 1651.8,774.2 1653.0,778.0 1650.5,785.5 1648.0,788.0 1644.2,786.8 1635.5,785.5 1630.5,788.0 1628.0,793.0 1618.0,794.2 1613.0,798.0 1603.0,798.0 1590.5,798.0"/>
<polygon fill="#fdb863" points="1665.5,885.5 1670.5,885.5 1673.0,893.0 1680.5,898.0 1685.5,898.0 1690.5,905.5 1698.0,905.5 1698.0,898.0 1703.0,886.8 1708.0,888.0 1711.8,898.0 1713.0,905.5 1708.0,910.5 1705.5,920.5 1713.0,923.0 1714.2,933.0 1705.5,935.5 1705.5,948.0 1704.2,958.0 1698.0,960.5 1693.0,953.0 1693.0,945.5 1688.0,940.5 1680.5,938.0 1678.0,945.5 1675.5,950.5 1670.5,948.0 1664.2,943.0 1663.0,930.5 1666.8,920.5 1665.5,913.0 1666.8,905.5"/>
<polygon fill="#fdb863" points="1610.5,933.0 1618.0,929.2 1625.5,923.0 1628.0,918.0 1634.2,916.8 1635.5,928.0 1645.5,933.0 1646.8,943.0 1650.5,948.0 1645.5,955.5 1650.5,960.5 1651.8,965.5 1640.5,968.0 1633.0,973.0 1628.0,978.0 1624.2,985.5 1620.5,985.5 1618.0,973.0 1615.5,968.0 1615.5,960.5 1610.5,958.0 1609.2,953.0 1613.0,948.0 1609.2,940.5"/>
<polygon fill="#fdb863" points="1590.5,868.0 1610.5,868.0 1613.0,883.0 1608.0,890.5 1590.5,898.0"/>
<polygon fill="#fdb863" points="1590.5,973.0 1610.5,973.0 1613.0,990.5 1614.2,1008.0 1610.5,1018.0 1615.5,1028.0 1628.0,1018.0 1633.0,1008.0 1640.5,1006.8 1646.8,1013.0 1649.2,1023.0 1646.8,1038.0 1640.5,1043.0 1638.0,1053.0 1640.5,1063.0 1648.0,1068.0 1658.0,1075.5 1663.0,1083.0 1670.5,1085.5 1678.0,1078.0 1683.0,1068.0 1688.0,1073.0 1695.5,1083.0 1703.0,1078.0 1713.0,1075.5 1715.5,1060.5 1715.5,1043.0 1713.0,1020.5 1708.0,1018.0 1703.0,1008.0 1703.0,995.5 1698.0,983.0 1703.0,979.2 1713.0,985.5 1715.5,998.0 1718.0,1018.0 1723.0,1008.0 1728.0,1018.0 1733.0,1033.0 1738.0,1033.0 1743.0,1038.0 1743.0,1063.0 1748.0,1068.0 1768.0,1068.0 1773.0,1078.0 1775.5,1088.0 1778.0,1098.0 1793.0,1098.0 1795.5,1108.0 1793.0,1120.0 1590.5,1120.0"/>
<polygon fill="#f7f7f7" points="1640.5,1055.5 1653.0,1053.0 1660.5,1063.0 1655.5,1070.5 1643.0,1068.0"/>
<polygon fill="#fdb863" points="1793.0,1041.8 1815.5,1041.8 1818.0,1050.5 1828.0,1055.5 1833.0,1063.0 1835.5,1073.0 1828.0,1075.5 1820.5,1078.0 1813.0,1075.5 1810.5,1085.5 1805.5,1093.0 1800.5,1088.0 1798.0,1073.0 1803.0,1063.0 1798.0,1053.0"/>
<polygon fill="#fdb863" points="1824.2,1083.0 1831.8,1083.0 1831.8,1098.0 1826.8,1098.0"/>
<polygon fill="#fdb863" points="1885.5,1120.0 1888.0,1105.5 1895.5,1093.0 1898.0,1080.5 1905.5,1075.5 1915.5,1075.5 1918.0,1063.0 1915.5,1058.0 1923.0,1055.5 1930.5,1053.0 1933.0,1048.0 1935.5,1033.0 1940.5,1035.5 1950.5,1043.0 1953.0,1050.5 1950.5,1058.0 1943.0,1060.5 1938.0,1068.0 1935.5,1078.0 1940.5,1088.0 1955.5,1088.0 1960.5,1093.0 1965.5,1105.5 1978.0,1100.5 1985.5,1098.0 1989.2,1103.0 1991.8,1113.0 1995.5,1120.0"/>
<polygon fill="#fdb863" points="1863.0,1098.0 1868.0,1090.5 1875.5,1094.2 1880.5,1108.0 1881.8,1120.0 1855.5,1120.0"/>
<polygon fill="#fdb863" points="2053.0,1055.5 2058.0,1048.0 2068.0,1044.2 2069.2,1055.5 2068.0,1063.0 2065.5,1075.5 2073.0,1073.0 2078.0,1080.5 2080.5,1093.0 2083.0,1103.0 2073.0,1105.5 2065.5,1103.0 2058.0,1095.5 2055.5,1088.0 2063.0,1078.0"/>
<polygon fill="#fdb863" points="1764.2,948.0 1769.2,940.5 1771.0,945.5 1768.0,951.8 1763.0,951.8"/>
<polygon fill="#fdb863" points="1734.2,906.8 1741.8,906.8 1741.8,913.0 1738.0,916.8 1735.5,913.0"/>
<polygon fill="#fdb863" points="2090.5,1056.8 2096.8,1056.8 2096.8,1068.0 2090.5,1068.0"/>
<polygon fill="#e08214" points="1914.2,1086.8 1921.8,1086.8 1923.0,1103.0 1918.0,1103.0 1914.2,1095.5"/>
<polygon fill="#e08214" points="1620.5,951.8 1624.2,951.8 1624.2,958.0 1630.5,960.5 1628.0,970.5 1623.0,970.5 1620.5,959.2"/>
<polygon fill="#d5e8d4" points="1950.5,1068.0 1958.0,1059.2 1963.0,1060.5 1963.0,1068.0 1970.5,1075.5 1970.5,1085.5 1963.0,1085.5 1958.0,1078.0 1950.5,1078.0 1948.0,1073.0"/>
<rect x="1603" y="708" width="567" height="412" fill="#7f7f7f" mask="url(#mk7)"/>
</g>
<g clip-path="url(#cl8)">
<rect x="1603" y="1120" width="567" height="368" fill="#f7f7f7"/>
<polygon fill="#fdb863" points="1590.5,1063.5 1660.5,1063.5 1663.0,1091.0 1665.5,1101.0 1670.5,1103.5 1675.5,1101.0 1683.0,1103.5 1685.5,1111.0 1690.5,1108.5 1695.5,1101.0 1698.0,1091.0 1703.0,1086.0 1715.5,1086.0 1718.0,1076.0 1773.0,1076.0 1770.5,1086.0 1773.0,1093.5 1783.0,1096.0 1788.0,1106.0 1793.0,1103.5 1795.5,1096.0 1798.0,1103.5 1793.0,1111.0 1788.0,1116.0 1793.0,1131.0 1800.5,1138.5 1805.5,1148.5 1813.0,1151.0 1818.0,1156.0 1828.0,1158.5 1830.5,1156.0 1825.5,1151.0 1825.5,1131.0 1836.8,1124.8 1843.0,1129.8 1853.0,1129.8 1855.5,1121.0 1860.5,1116.0 1864.2,1108.5 1865.5,1093.5 1868.0,1091.0 1875.5,1096.0 1875.5,1113.5 1880.5,1116.0 1881.8,1123.5 1875.5,1128.5 1885.5,1128.5 1888.0,1121.0 1885.5,1113.5 1888.0,1106.0 1894.2,1103.5 1895.5,1091.0 1899.2,1086.0 1903.0,1081.0 1913.0,1076.0 1930.5,1076.0 1935.5,1083.5 1938.0,1091.0 1948.0,1088.5 1958.0,1091.0 1965.5,1098.5 1978.0,1103.5 1980.5,1099.8 1989.2,1099.8 1991.8,1106.0 1995.5,1118.5 1989.2,1126.0 1988.0,1131.0 1996.8,1134.8 1998.0,1148.5 2005.5,1149.8 2014.2,1153.5 2014.2,1162.2 2006.8,1163.5 2004.2,1167.2 1998.0,1168.5 1995.5,1162.2 1990.5,1161.0 1983.0,1158.5 1969.2,1156.0 1958.0,1149.8 1946.8,1146.0 1943.0,1156.0 1939.2,1167.2 1934.2,1179.8 1930.5,1196.0 1928.0,1202.2 1915.5,1203.5 1909.2,1206.0 1896.8,1203.5 1895.5,1211.0 1900.5,1216.0 1893.0,1223.5 1891.8,1232.2 1893.0,1241.0 1885.5,1241.0 1878.0,1236.0 1871.8,1239.8 1863.0,1241.0 1858.0,1238.5 1850.5,1241.0 1843.0,1241.0 1840.5,1246.0 1843.0,1251.0 1838.0,1256.0 1833.0,1268.5 1833.0,1287.2 1824.2,1288.5 1823.0,1296.0 1815.5,1301.0 1814.2,1313.5 1805.5,1314.8 1798.0,1316.0 1798.0,1328.5 1793.0,1329.8 1789.2,1321.0 1785.5,1316.0 1780.5,1316.0 1778.0,1323.5 1768.0,1326.0 1759.2,1326.0 1755.5,1316.0 1750.5,1313.5 1748.0,1316.0 1748.0,1326.0 1743.0,1328.5 1740.5,1323.5 1739.2,1316.0 1735.5,1311.0 1733.0,1316.0 1730.5,1316.0 1728.0,1308.5 1725.5,1296.0 1723.0,1291.0 1713.0,1288.5 1708.0,1293.5 1705.5,1311.0 1703.0,1323.5 1698.0,1323.5 1698.0,1313.5 1700.5,1303.5 1698.0,1296.0 1688.0,1291.0 1683.0,1283.5 1675.5,1278.5 1668.0,1283.5 1668.0,1296.0 1670.5,1301.0 1670.5,1306.0 1663.0,1306.0 1658.0,1298.5 1655.5,1303.5 1650.5,1296.0 1648.0,1283.5 1643.0,1281.0 1638.0,1286.0 1636.8,1294.8 1640.5,1298.5 1645.5,1313.5 1650.5,1326.0 1655.5,1331.0 1658.0,1336.0 1643.0,1337.2 1635.5,1338.5 1635.5,1326.0 1633.0,1316.0 1628.0,1308.5 1625.5,1301.0 1626.8,1296.0 1630.5,1293.5 1633.0,1288.5 1623.0,1286.0 1618.0,1283.5 1610.5,1283.5 1608.0,1291.0 1606.8,1306.0 1590.5,1308.5"/>
<polygon fill="#f7f7f7" points="1590.5,1096.0 1613.0,1096.0 1620.5,1098.5 1625.5,1103.5 1623.0,1113.5 1623.0,1126.0 1618.0,1133.5 1610.5,1136.0 1590.5,1136.0"/>
<polygon fill="#f7f7f7" points="1704.2,1191.0 1710.5,1181.0 1715.5,1171.0 1718.0,1164.8 1723.0,1163.5 1723.0,1171.0 1718.0,1178.5 1718.0,1191.0 1723.0,1196.0 1723.0,1206.0 1715.5,1208.5 1710.5,1212.2 1704.2,1218.5"/>
<polygon fill="#f7f7f7" points="1768.0,1161.0 1783.0,1151.0 1788.0,1149.8 1800.5,1149.8 1798.0,1158.5 1793.0,1161.0 1793.0,1168.5 1788.0,1171.0 1788.0,1178.5 1780.5,1183.5 1779.2,1196.0 1763.0,1196.0 1763.0,1206.0 1760.5,1213.5 1765.5,1218.5 1773.0,1216.0 1774.2,1229.8 1765.5,1229.8 1763.0,1223.5 1758.0,1216.0 1760.5,1201.0 1763.0,1181.0 1768.0,1176.0"/>
<polygon fill="#f7f7f7" points="1825.5,1231.0 1831.8,1223.5 1839.2,1222.2 1839.2,1236.0 1833.0,1242.2 1825.5,1241.0"/>
<polygon fill="#f7f7f7" points="1693.0,1233.5 1698.0,1231.0 1703.0,1223.5 1710.5,1228.5 1713.0,1241.0 1718.0,1246.0 1728.0,1251.0 1723.0,1256.0 1690.5,1256.0"/>
<polygon fill="#f7f7f7" points="1741.8,1234.0 1755.0,1234.0 1755.0,1242.2 1741.8,1242.2"/>
<polygon fill="#f7f7f7" points="1610.5,1273.5 1625.5,1271.0 1625.5,1283.5 1618.0,1283.5 1610.5,1283.5"/>
<polygon fill="#f7f7f7" points="1670.5,1266.0 1685.5,1266.0 1695.5,1276.0 1698.0,1296.0 1688.0,1291.0 1683.0,1283.5 1675.5,1278.5 1670.5,1276.0"/>
<polygon fill="#f7f7f7" points="1710.5,1261.0 1723.0,1261.0 1725.5,1276.0 1728.0,1291.0 1723.0,1291.0 1713.0,1288.5 1710.5,1276.0"/>
<polygon fill="#f7f7f7" points="1738.0,1271.0 1748.0,1271.0 1750.5,1288.5 1748.0,1313.5 1743.0,1316.0 1739.2,1301.0"/>
<polygon fill="#f7f7f7" points="1763.0,1266.0 1775.5,1271.0 1778.0,1288.5 1775.5,1301.0 1768.0,1313.5 1763.0,1301.0"/>
<polygon fill="#f7f7f7" points="1805.5,1276.0 1815.5,1276.0 1816.8,1288.5 1808.0,1291.0"/>
<polygon fill="#fdb863" points="1723.0,1343.5 1730.5,1342.2 1733.0,1351.0 1738.0,1358.5 1741.8,1366.0 1741.8,1376.0 1738.0,1381.0 1738.0,1391.0 1733.0,1398.5 1728.0,1401.0 1723.0,1406.0 1718.0,1401.0 1716.8,1396.0 1713.0,1383.5 1709.2,1368.5 1709.2,1358.5 1713.0,1353.5 1718.0,1348.5"/>
<polygon fill="#fdb863" points="1660.5,1338.5 1669.2,1338.5 1669.2,1361.0 1661.8,1361.0 1660.5,1356.0 1651.8,1349.8 1655.5,1346.0"/>
<polygon fill="#fdb863" points="1783.0,1296.0 1793.0,1291.0 1800.5,1296.0 1803.0,1306.0 1810.5,1311.0 1814.2,1313.5 1805.5,1314.8 1798.0,1316.0 1798.0,1328.5 1793.0,1329.8 1789.2,1321.0 1785.5,1316.0 1780.5,1316.0 1778.0,1323.5 1778.0,1308.5"/>
<polygon fill="#fdb863" points="1888.0,1261.0 1895.5,1256.0 1908.0,1257.2 1908.0,1271.0 1904.2,1276.0 1903.0,1287.2 1899.2,1288.5 1893.0,1281.0 1888.0,1276.0 1883.0,1276.0 1881.8,1287.2 1874.2,1287.2 1874.2,1273.5 1888.0,1272.2"/>
<polygon fill="#fdb863" points="1911.8,1234.8 1920.5,1233.5 1920.0,1248.5 1914.2,1251.0 1910.5,1256.0 1909.2,1248.5"/>
<polygon fill="#fdb863" points="2060.5,1081.0 2068.0,1076.0 2078.0,1076.0 2078.0,1091.0 2081.8,1096.0 2081.8,1102.2 2073.0,1101.0 2070.5,1106.0 2065.5,1106.0 2065.5,1098.5 2055.5,1093.5 2055.5,1088.5"/>
<polygon fill="#fdb863" points="2070.5,1131.0 2078.0,1126.0 2081.8,1133.5 2080.5,1143.5 2075.5,1144.8 2068.0,1146.0 2065.5,1156.0 2063.0,1151.0 2060.5,1143.5 2065.5,1141.0"/>
<polygon fill="#fdb863" points="1825.5,1083.5 1833.0,1082.2 1839.2,1087.2 1838.0,1091.0 1830.5,1093.5 1829.2,1098.5 1825.5,1096.0"/>
<polygon fill="#e08214" points="1655.5,1131.0 1661.8,1132.2 1663.0,1141.0 1666.8,1148.5 1668.0,1161.0 1665.5,1171.0 1663.0,1176.0 1658.0,1178.5 1653.0,1181.0 1650.5,1186.0 1648.0,1193.5 1645.5,1186.0 1639.2,1184.8 1643.0,1176.0 1645.5,1168.5 1650.5,1161.0 1653.0,1153.5"/>
<polygon fill="#e08214" points="1816.8,1176.0 1830.5,1172.2 1831.8,1178.5 1838.0,1181.0 1845.5,1181.0 1850.5,1186.0 1854.2,1191.0 1851.8,1198.5 1844.2,1199.8 1843.0,1203.5 1835.5,1203.5 1830.5,1206.0 1825.5,1211.0 1823.0,1216.0 1816.8,1221.0 1810.5,1219.8 1806.8,1213.5 1805.5,1201.0 1813.0,1201.0 1816.8,1196.0 1821.8,1191.0 1818.0,1183.5"/>
<polygon fill="#e08214" points="1858.0,1188.5 1863.0,1187.2 1868.0,1193.5 1870.5,1201.0 1873.0,1208.5 1878.0,1213.5 1875.5,1221.0 1870.5,1213.5 1865.5,1206.0 1860.5,1196.0"/>
<polygon fill="#e08214" points="1861.8,1134.8 1868.0,1132.2 1871.8,1141.0 1876.8,1149.8 1873.0,1153.5 1868.0,1156.0 1863.0,1153.5 1860.5,1146.0"/>
<polygon fill="#e08214" points="1950.5,1121.0 1958.0,1117.2 1959.2,1133.5 1965.5,1136.0 1970.5,1137.2 1978.0,1137.2 1985.5,1141.0 1985.5,1153.5 1980.5,1156.0 1975.5,1158.5 1969.2,1156.0 1960.5,1152.2 1953.0,1148.5 1948.0,1146.0 1946.8,1136.0"/>
<polygon fill="#e08214" points="1915.0,1087.2 1920.0,1086.0 1923.0,1093.5 1923.0,1102.2 1918.5,1101.0 1915.5,1096.0"/>
<polygon fill="#e08214" points="1723.0,1149.8 1730.5,1143.5 1735.5,1141.0 1735.5,1152.2 1728.0,1152.2 1720.5,1156.0 1715.5,1151.0 1718.0,1148.5"/>
<polygon fill="#e08214" points="1630.5,1203.5 1638.0,1202.2 1641.8,1198.5 1640.5,1206.0 1631.8,1206.5"/>
<polygon fill="#d5e8d4" points="1933.0,1076.0 1970.5,1076.0 1970.5,1086.0 1963.0,1086.5 1963.0,1079.8 1938.0,1078.5 1933.0,1079.8"/>
<polygon fill="#f7f7f7" points="1671.0,1255.5 1681.9,1249.1 1685.5,1259.1 1696.5,1262.8 1698.3,1277.3 1700.1,1291.9 1701.9,1322.8 1692.8,1324.6 1681.9,1319.2 1674.6,1313.7 1671.0,1306.4 1667.3,1277.3"/>
<polygon fill="#f7f7f7" points="1714.6,1266.4 1723.7,1259.1 1725.6,1266.4 1729.2,1277.3 1734.7,1281.0 1741.9,1275.5 1749.2,1288.2 1751.0,1306.4 1747.4,1324.6 1736.5,1324.6 1727.4,1313.7 1714.6,1313.7 1709.2,1295.5 1712.8,1281.0"/>
<polygon fill="#f7f7f7" points="1761.9,1273.7 1767.4,1268.2 1772.9,1277.3 1783.8,1281.0 1787.4,1291.9 1780.1,1301.0 1778.3,1313.7 1769.2,1324.6 1761.9,1313.7"/>
<polygon fill="#f7f7f7" points="1832.9,1244.6 1845.6,1241.0 1862.0,1235.5 1882.0,1237.3 1900.2,1235.5 1900.2,1259.1 1887.4,1261.0 1887.4,1273.7 1874.7,1271.9 1872.9,1284.6 1863.8,1277.3 1845.6,1266.4 1834.7,1262.8"/>
<polygon fill="#fdb863" points="1874.7,1273.7 1889.3,1273.7 1889.3,1284.6 1878.4,1288.2 1874.7,1284.6"/>
<rect x="1603" y="1120" width="567" height="368" fill="#7f7f7f" mask="url(#mk8)"/>
</g>
<g clip-path="url(#cl9)">
<rect x="2170" y="708" width="161" height="780" fill="#f7f7f7"/>
<polygon fill="#fdb863" points="2052.3,1052.0 2059.7,1052.0 2060.3,1048.0 2063.0,1044.9 2069.0,1044.9 2069.0,1055.3 2071.0,1056.0 2071.0,1059.3 2059.7,1060.0 2059.7,1072.0 2057.7,1072.0 2055.0,1067.3 2055.0,1055.3 2052.3,1055.3"/>
<polygon fill="#fdb863" points="2073.7,1068.0 2079.0,1068.0 2079.0,1072.0 2077.0,1072.0 2077.0,1078.7 2079.0,1080.0 2079.0,1086.7 2077.0,1087.3 2078.3,1094.7 2081.7,1095.3 2081.7,1102.7 2079.0,1102.7 2077.7,1098.7 2073.7,1098.7 2073.7,1106.0 2066.3,1106.0 2066.3,1098.7 2058.3,1098.0 2057.7,1094.7 2055.0,1094.7 2055.0,1087.3 2059.7,1086.7 2059.7,1079.3 2069.0,1078.7 2069.0,1075.3 2071.0,1074.7 2071.0,1072.0 2073.7,1072.0"/>
<polygon fill="#fdb863" points="2089.7,1056.0 2093.0,1056.0 2093.7,1060.0 2097.7,1060.0 2097.7,1068.0 2093.0,1068.0"/>
<polygon fill="#fdb863" points="2109.0,1068.0 2111.9,1068.0 2111.9,1074.7 2109.0,1074.7"/>
<polygon fill="#fdb863" points="2169.0,1103.1 2185.0,1103.1 2185.0,1106.0 2193.0,1106.0 2193.0,1114.0 2195.9,1114.3 2195.9,1122.0 2193.0,1122.0 2193.0,1118.0 2187.0,1117.3 2187.0,1114.0 2177.0,1113.7 2177.0,1110.0 2173.7,1110.0 2173.7,1113.7 2169.0,1113.7"/>
<polygon fill="#fdb863" points="2077.0,1126.0 2079.0,1126.0 2079.0,1133.3 2082.1,1133.3 2082.1,1140.7 2079.0,1140.7 2078.7,1144.7 2073.7,1144.7 2073.7,1141.3 2071.0,1141.3 2069.0,1148.7 2065.9,1148.9 2065.9,1156.7 2063.0,1156.7 2063.0,1152.7 2059.7,1152.7 2059.7,1148.7 2063.0,1148.7 2063.0,1144.9 2059.7,1144.7 2059.7,1140.9 2071.0,1140.9 2071.0,1133.3 2073.7,1133.3 2073.9,1130.0 2077.0,1129.7"/>
<polygon fill="#fdb863" points="2197.7,1144.9 2201.0,1144.9 2201.0,1156.7 2197.7,1156.7 2197.7,1160.0 2193.0,1160.0 2193.0,1148.9 2197.7,1148.7"/>
<polygon fill="#fdb863" points="2079.0,1118.0 2085.0,1118.0 2085.0,1122.0 2079.0,1122.0"/>
<polygon fill="#fdb863" points="2087.0,1114.0 2089.9,1114.0 2089.9,1118.0 2087.0,1118.0"/>
<polygon fill="#fdb863" points="2141.0,1118.0 2144.1,1118.0 2144.1,1122.0 2141.0,1122.0"/>
<polygon fill="#fdb863" points="2173.9,1222.0 2176.6,1222.0 2176.6,1230.0 2181.7,1230.0 2181.7,1234.0 2171.0,1234.0 2171.0,1226.0 2173.9,1226.0"/>
<rect x="2170" y="708" width="161" height="780" fill="#7f7f7f" mask="url(#mk9)"/>
</g>
</g>
<g stroke="#7f7f7f" stroke-width="4.45" stroke-dasharray="4.45 13.35" fill="none">
<line x1="469" y1="396.6" x2="2331" y2="396.6" stroke-dashoffset="-0.8"/>
<line x1="469" y1="611.2" x2="2331" y2="611.2" stroke-dashoffset="-0.8"/>
<line x1="469" y1="825.8" x2="2331" y2="825.8" stroke-dashoffset="-0.8"/>
<line x1="469" y1="1040.4" x2="2331" y2="1040.4" stroke-dashoffset="-0.8"/>
<line x1="469" y1="1255.0" x2="2331" y2="1255.0" stroke-dashoffset="-0.8"/>
<line x1="634.9" y1="1488" x2="634.9" y2="296"/>
<line x1="934.9" y1="1488" x2="934.9" y2="296"/>
<line x1="1234.9" y1="1488" x2="1234.9" y2="296"/>
<line x1="1534.9" y1="1488" x2="1534.9" y2="296"/>
<line x1="1834.9" y1="1488" x2="1834.9" y2="296"/>
<line x1="2134.9" y1="1488" x2="2134.9" y2="296"/>
</g>
</svg>
<div class="t" id="title">ECMWFS51 seasonal forecasts of total precipitation</div>
<div class="t" id="sub1">Probability of the most likely tercile category</div>
<div class="t" id="sub2">Nominal forecast start: 01/11/2000</div>
<div class="t" id="sub3">Valid time: APR 2001</div>
<div class="yl" style="top:152.0px">47°N</div><div class="yl" style="top:366.6px">46.5°N</div><div class="yl" style="top:581.2px">46°N</div><div class="yl" style="top:795.8px">45.5°N</div><div class="yl" style="top:1010.4px">45°N</div><div class="yl" style="top:1225.0px">44.5°N</div><div class="yl" style="top:1439.6px">44°N</div>
<div class="xl" style="left:484.9px">7°E</div><div class="xl" style="left:784.9px">8°E</div><div class="xl" style="left:1084.9px">9°E</div><div class="xl" style="left:1384.9px">10°E</div><div class="xl" style="left:1684.9px">11°E</div><div class="xl" style="left:1984.9px">12°E</div>
<div class="lh" style="left:829px">&lt;--- below lower tercile</div>
<div class="lh" style="left:1579px">above upper tercile ---&gt;</div>
<div class="lk" style="left:233.9px;background:#7f3b08"></div><div class="lt" style="left:313.0px">70-100%</div><div class="lk" style="left:521.0px;background:#b35806"></div><div class="lt" style="left:600.1px">60-70%</div><div class="lk" style="left:782.4px;background:#e08214"></div><div class="lt" style="left:861.5px">50-60%</div><div class="lk" style="left:1043.8px;background:#fdb863"></div><div class="lt" style="left:1122.9px">40-50%</div><div class="lk" style="left:1304.4px;background:#f7f7f7"></div><div class="lt" style="left:1383.5px">other</div><div class="lk" style="left:1516.4px;background:#d5e8d4"></div><div class="lt" style="left:1595.5px">40-50%</div><div class="lk" style="left:1777.4px;background:#7bc8c0"></div><div class="lt" style="left:1856.5px">50-60%</div><div class="lk" style="left:2038.9px;background:#21958c"></div><div class="lt" style="left:2118.0px">60-70%</div><div class="lk" style="left:2300.4px;background:#01665e"></div><div class="lt" style="left:2379.5px">70-100%</div>
</body></html>
